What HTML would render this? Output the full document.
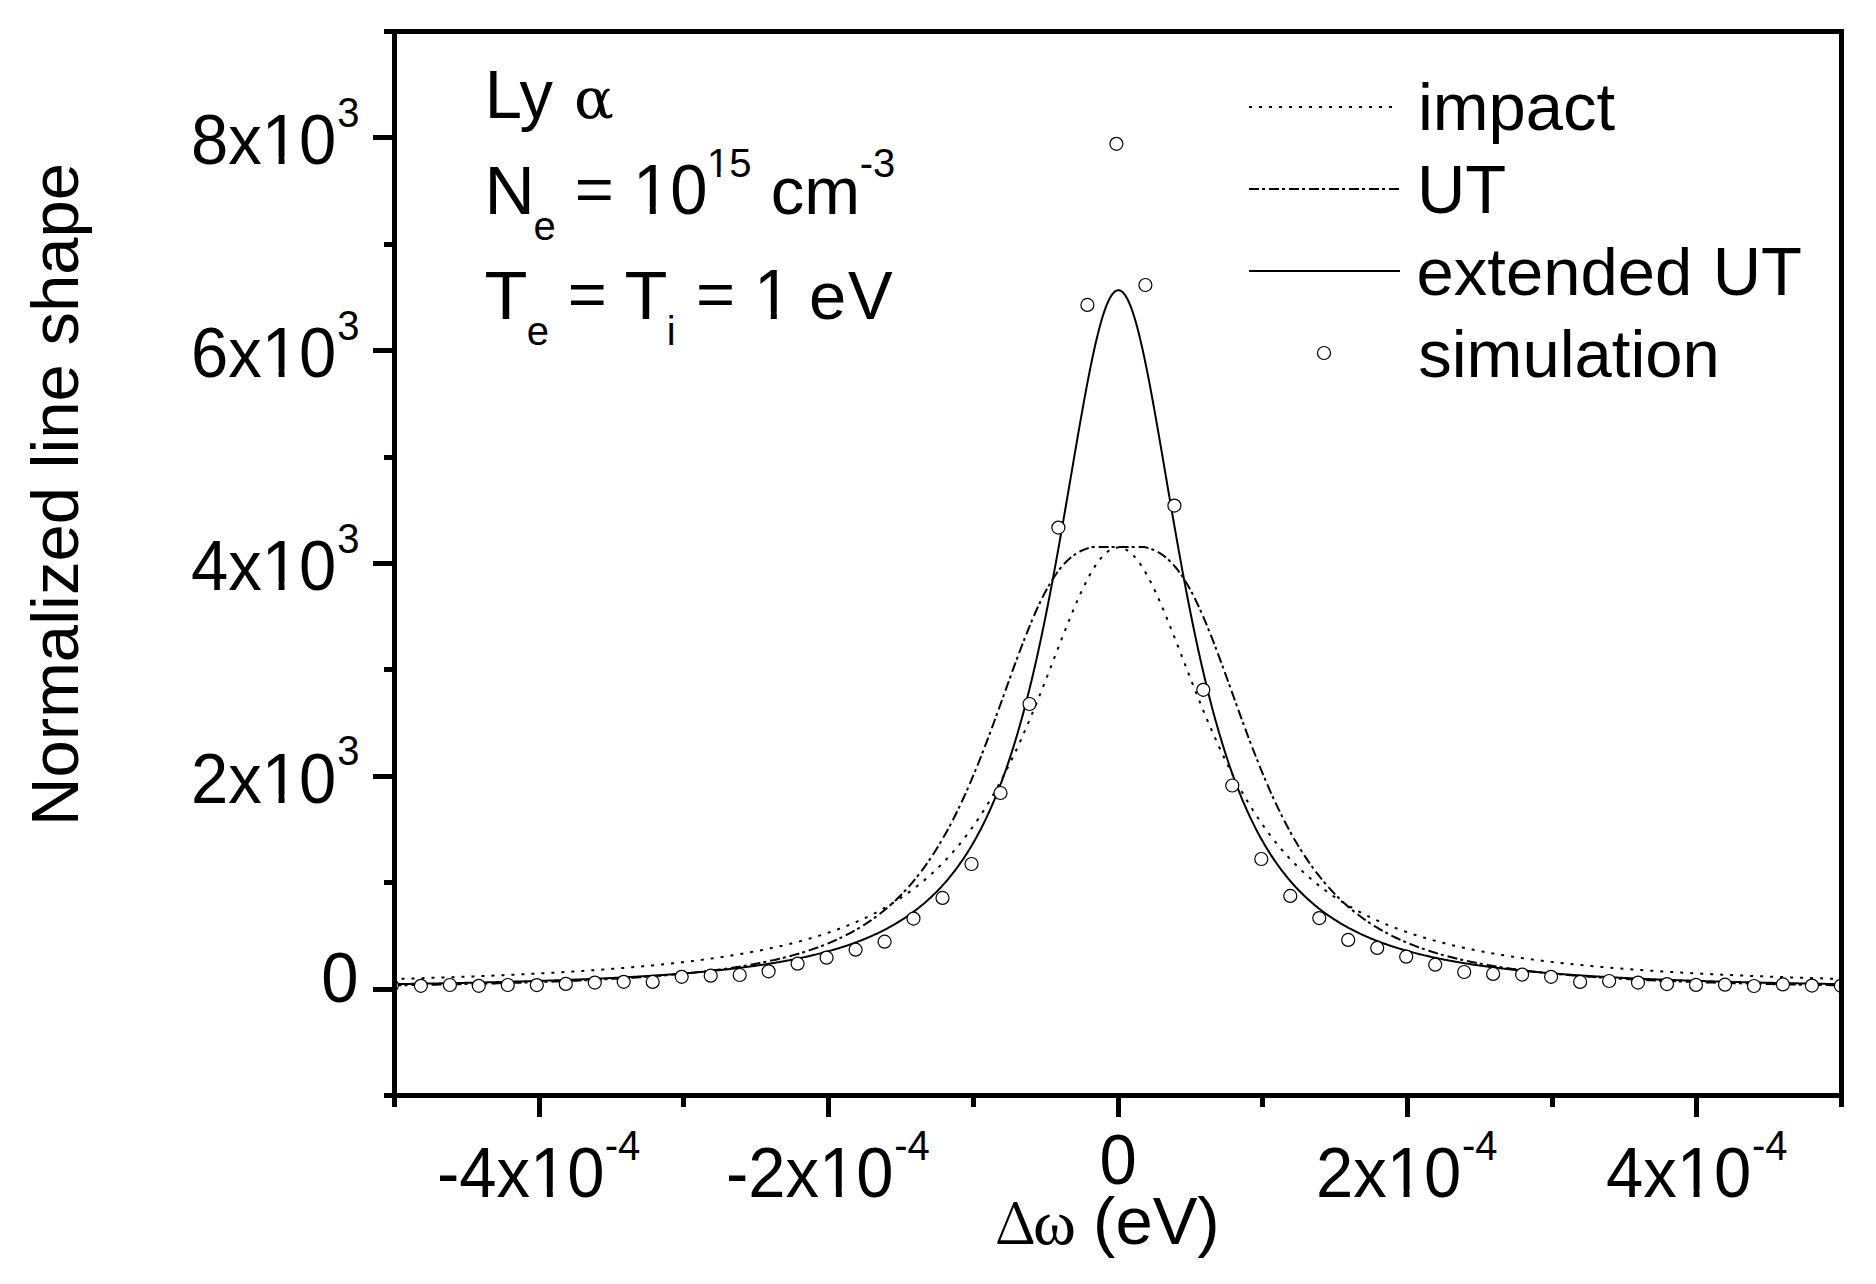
<!DOCTYPE html>
<html><head><meta charset="utf-8"><title>Normalized line shape</title>
<style>
html,body{margin:0;padding:0;background:#fff;}
body{width:1876px;height:1284px;overflow:hidden;}
svg{display:block;}
.s{font-family:"Liberation Sans",Arial,sans-serif;fill:#000;}
.r{font-family:"Liberation Serif","Times New Roman",serif;}
.d{font-family:"DejaVu Serif",serif;}
.n{font-family:"Noto Serif CJK SC",serif;}
</style></head><body>
<svg width="1876" height="1284" viewBox="0 0 1876 1284">
<rect width="1876" height="1284" fill="#fff"/>
<defs><clipPath id="pa"><rect x="394.5" y="31.5" width="1447" height="1064"/></clipPath></defs>
<g clip-path="url(#pa)" fill="none" stroke="#000">
<path d="M391.5,979.04 L392.5,979.01 L393.5,978.98 L394.5,978.96 L395.5,978.93 L396.5,978.90 L397.5,978.87 L398.5,978.85 L399.5,978.82 L400.5,978.79 L401.5,978.76 L402.5,978.73 L403.5,978.71 L404.5,978.68 L405.5,978.65 L406.5,978.62 L407.5,978.59 L408.5,978.56 L409.5,978.53 L410.5,978.50 L411.5,978.47 L412.5,978.45 L413.5,978.42 L414.5,978.39 L415.5,978.36 L416.5,978.33 L417.5,978.30 L418.5,978.27 L419.5,978.24 L420.5,978.21 L421.5,978.18 L422.5,978.14 L423.5,978.11 L424.5,978.08 L425.5,978.05 L426.5,978.02 L427.5,977.99 L428.5,977.96 L429.5,977.93 L430.5,977.89 L431.5,977.86 L432.5,977.83 L433.5,977.80 L434.5,977.77 L435.5,977.73 L436.5,977.70 L437.5,977.67 L438.5,977.64 L439.5,977.60 L440.5,977.57 L441.5,977.54 L442.5,977.50 L443.5,977.47 L444.5,977.44 L445.5,977.40 L446.5,977.37 L447.5,977.34 L448.5,977.30 L449.5,977.27 L450.5,977.23 L451.5,977.20 L452.5,977.16 L453.5,977.13 L454.5,977.09 L455.5,977.06 L456.5,977.02 L457.5,976.99 L458.5,976.95 L459.5,976.91 L460.5,976.88 L461.5,976.84 L462.5,976.81 L463.5,976.77 L464.5,976.73 L465.5,976.70 L466.5,976.66 L467.5,976.62 L468.5,976.58 L469.5,976.55 L470.5,976.51 L471.5,976.47 L472.5,976.43 L473.5,976.40 L474.5,976.36 L475.5,976.32 L476.5,976.28 L477.5,976.24 L478.5,976.20 L479.5,976.16 L480.5,976.12 L481.5,976.08 L482.5,976.04 L483.5,976.00 L484.5,975.96 L485.5,975.92 L486.5,975.88 L487.5,975.84 L488.5,975.80 L489.5,975.76 L490.5,975.72 L491.5,975.68 L492.5,975.64 L493.5,975.59 L494.5,975.55 L495.5,975.51 L496.5,975.47 L497.5,975.42 L498.5,975.38 L499.5,975.34 L500.5,975.30 L501.5,975.25 L502.5,975.21 L503.5,975.17 L504.5,975.12 L505.5,975.08 L506.5,975.03 L507.5,974.99 L508.5,974.94 L509.5,974.90 L510.5,974.85 L511.5,974.81 L512.5,974.76 L513.5,974.72 L514.5,974.67 L515.5,974.62 L516.5,974.58 L517.5,974.53 L518.5,974.48 L519.5,974.44 L520.5,974.39 L521.5,974.34 L522.5,974.29 L523.5,974.24 L524.5,974.20 L525.5,974.15 L526.5,974.10 L527.5,974.05 L528.5,974.00 L529.5,973.95 L530.5,973.90 L531.5,973.85 L532.5,973.80 L533.5,973.75 L534.5,973.70 L535.5,973.65 L536.5,973.60 L537.5,973.55 L538.5,973.49 L539.5,973.44 L540.5,973.39 L541.5,973.34 L542.5,973.28 L543.5,973.23 L544.5,973.18 L545.5,973.12 L546.5,973.07 L547.5,973.02 L548.5,972.96 L549.5,972.91 L550.5,972.85 L551.5,972.80 L552.5,972.74 L553.5,972.69 L554.5,972.63 L555.5,972.57 L556.5,972.52 L557.5,972.46 L558.5,972.40 L559.5,972.34 L560.5,972.29 L561.5,972.23 L562.5,972.17 L563.5,972.11 L564.5,972.05 L565.5,971.99 L566.5,971.93 L567.5,971.87 L568.5,971.81 L569.5,971.75 L570.5,971.69 L571.5,971.63 L572.5,971.57 L573.5,971.51 L574.5,971.44 L575.5,971.38 L576.5,971.32 L577.5,971.26 L578.5,971.19 L579.5,971.13 L580.5,971.06 L581.5,971.00 L582.5,970.94 L583.5,970.87 L584.5,970.80 L585.5,970.74 L586.5,970.67 L587.5,970.61 L588.5,970.54 L589.5,970.47 L590.5,970.40 L591.5,970.34 L592.5,970.27 L593.5,970.20 L594.5,970.13 L595.5,970.06 L596.5,969.99 L597.5,969.92 L598.5,969.85 L599.5,969.78 L600.5,969.71 L601.5,969.64 L602.5,969.56 L603.5,969.49 L604.5,969.42 L605.5,969.34 L606.5,969.27 L607.5,969.20 L608.5,969.12 L609.5,969.05 L610.5,968.97 L611.5,968.90 L612.5,968.82 L613.5,968.74 L614.5,968.67 L615.5,968.59 L616.5,968.51 L617.5,968.43 L618.5,968.35 L619.5,968.27 L620.5,968.19 L621.5,968.11 L622.5,968.03 L623.5,967.95 L624.5,967.87 L625.5,967.79 L626.5,967.71 L627.5,967.62 L628.5,967.54 L629.5,967.45 L630.5,967.37 L631.5,967.29 L632.5,967.20 L633.5,967.11 L634.5,967.03 L635.5,966.94 L636.5,966.85 L637.5,966.77 L638.5,966.68 L639.5,966.59 L640.5,966.50 L641.5,966.41 L642.5,966.32 L643.5,966.23 L644.5,966.13 L645.5,966.04 L646.5,965.95 L647.5,965.86 L648.5,965.76 L649.5,965.67 L650.5,965.57 L651.5,965.48 L652.5,965.38 L653.5,965.29 L654.5,965.19 L655.5,965.09 L656.5,964.99 L657.5,964.89 L658.5,964.79 L659.5,964.69 L660.5,964.59 L661.5,964.49 L662.5,964.39 L663.5,964.29 L664.5,964.18 L665.5,964.08 L666.5,963.97 L667.5,963.87 L668.5,963.76 L669.5,963.66 L670.5,963.55 L671.5,963.44 L672.5,963.33 L673.5,963.22 L674.5,963.11 L675.5,963.00 L676.5,962.89 L677.5,962.78 L678.5,962.67 L679.5,962.56 L680.5,962.44 L681.5,962.33 L682.5,962.21 L683.5,962.09 L684.5,961.98 L685.5,961.86 L686.5,961.74 L687.5,961.62 L688.5,961.50 L689.5,961.38 L690.5,961.26 L691.5,961.14 L692.5,961.01 L693.5,960.89 L694.5,960.77 L695.5,960.64 L696.5,960.51 L697.5,960.39 L698.5,960.26 L699.5,960.13 L700.5,960.00 L701.5,959.87 L702.5,959.74 L703.5,959.61 L704.5,959.47 L705.5,959.34 L706.5,959.20 L707.5,959.07 L708.5,958.93 L709.5,958.79 L710.5,958.66 L711.5,958.52 L712.5,958.38 L713.5,958.23 L714.5,958.09 L715.5,957.95 L716.5,957.81 L717.5,957.66 L718.5,957.51 L719.5,957.37 L720.5,957.22 L721.5,957.07 L722.5,956.92 L723.5,956.77 L724.5,956.62 L725.5,956.46 L726.5,956.31 L727.5,956.15 L728.5,956.00 L729.5,955.84 L730.5,955.68 L731.5,955.52 L732.5,955.36 L733.5,955.20 L734.5,955.03 L735.5,954.87 L736.5,954.70 L737.5,954.54 L738.5,954.37 L739.5,954.20 L740.5,954.03 L741.5,953.86 L742.5,953.69 L743.5,953.51 L744.5,953.34 L745.5,953.16 L746.5,952.98 L747.5,952.80 L748.5,952.62 L749.5,952.44 L750.5,952.26 L751.5,952.07 L752.5,951.89 L753.5,951.70 L754.5,951.51 L755.5,951.32 L756.5,951.13 L757.5,950.94 L758.5,950.75 L759.5,950.55 L760.5,950.35 L761.5,950.16 L762.5,949.96 L763.5,949.75 L764.5,949.55 L765.5,949.35 L766.5,949.14 L767.5,948.93 L768.5,948.73 L769.5,948.52 L770.5,948.30 L771.5,948.09 L772.5,947.87 L773.5,947.66 L774.5,947.44 L775.5,947.22 L776.5,947.00 L777.5,946.77 L778.5,946.55 L779.5,946.32 L780.5,946.09 L781.5,945.86 L782.5,945.63 L783.5,945.39 L784.5,945.16 L785.5,944.92 L786.5,944.68 L787.5,944.44 L788.5,944.20 L789.5,943.95 L790.5,943.70 L791.5,943.45 L792.5,943.20 L793.5,942.95 L794.5,942.69 L795.5,942.43 L796.5,942.18 L797.5,941.91 L798.5,941.65 L799.5,941.38 L800.5,941.12 L801.5,940.85 L802.5,940.57 L803.5,940.30 L804.5,940.02 L805.5,939.74 L806.5,939.46 L807.5,939.18 L808.5,938.89 L809.5,938.60 L810.5,938.31 L811.5,938.02 L812.5,937.72 L813.5,937.43 L814.5,937.13 L815.5,936.82 L816.5,936.52 L817.5,936.21 L818.5,935.90 L819.5,935.58 L820.5,935.27 L821.5,934.95 L822.5,934.63 L823.5,934.30 L824.5,933.98 L825.5,933.65 L826.5,933.32 L827.5,932.98 L828.5,932.64 L829.5,932.30 L830.5,931.96 L831.5,931.61 L832.5,931.26 L833.5,930.91 L834.5,930.55 L835.5,930.19 L836.5,929.83 L837.5,929.46 L838.5,929.09 L839.5,928.72 L840.5,928.35 L841.5,927.97 L842.5,927.59 L843.5,927.20 L844.5,926.81 L845.5,926.42 L846.5,926.02 L847.5,925.62 L848.5,925.22 L849.5,924.81 L850.5,924.40 L851.5,923.99 L852.5,923.57 L853.5,923.15 L854.5,922.72 L855.5,922.29 L856.5,921.86 L857.5,921.42 L858.5,920.98 L859.5,920.54 L860.5,920.09 L861.5,919.63 L862.5,919.18 L863.5,918.71 L864.5,918.25 L865.5,917.78 L866.5,917.30 L867.5,916.82 L868.5,916.34 L869.5,915.85 L870.5,915.36 L871.5,914.86 L872.5,914.36 L873.5,913.85 L874.5,913.34 L875.5,912.82 L876.5,912.30 L877.5,911.77 L878.5,911.24 L879.5,910.70 L880.5,910.16 L881.5,909.61 L882.5,909.06 L883.5,908.50 L884.5,907.94 L885.5,907.37 L886.5,906.79 L887.5,906.21 L888.5,905.63 L889.5,905.03 L890.5,904.44 L891.5,903.83 L892.5,903.22 L893.5,902.61 L894.5,901.99 L895.5,901.36 L896.5,900.72 L897.5,900.08 L898.5,899.44 L899.5,898.78 L900.5,898.12 L901.5,897.46 L902.5,896.79 L903.5,896.11 L904.5,895.42 L905.5,894.73 L906.5,894.02 L907.5,893.32 L908.5,892.60 L909.5,891.88 L910.5,891.15 L911.5,890.41 L912.5,889.67 L913.5,888.92 L914.5,888.16 L915.5,887.39 L916.5,886.61 L917.5,885.83 L918.5,885.04 L919.5,884.24 L920.5,883.43 L921.5,882.61 L922.5,881.79 L923.5,880.95 L924.5,880.11 L925.5,879.26 L926.5,878.40 L927.5,877.53 L928.5,876.65 L929.5,875.77 L930.5,874.87 L931.5,873.96 L932.5,873.05 L933.5,872.12 L934.5,871.19 L935.5,870.24 L936.5,869.29 L937.5,868.32 L938.5,867.35 L939.5,866.36 L940.5,865.37 L941.5,864.36 L942.5,863.34 L943.5,862.32 L944.5,861.28 L945.5,860.23 L946.5,859.16 L947.5,858.09 L948.5,857.01 L949.5,855.91 L950.5,854.81 L951.5,853.69 L952.5,852.56 L953.5,851.41 L954.5,850.26 L955.5,849.09 L956.5,847.91 L957.5,846.72 L958.5,845.51 L959.5,844.29 L960.5,843.06 L961.5,841.82 L962.5,840.56 L963.5,839.29 L964.5,838.00 L965.5,836.70 L966.5,835.39 L967.5,834.06 L968.5,832.72 L969.5,831.37 L970.5,830.00 L971.5,828.62 L972.5,827.22 L973.5,825.81 L974.5,824.38 L975.5,822.94 L976.5,821.48 L977.5,820.00 L978.5,818.52 L979.5,817.01 L980.5,815.49 L981.5,813.96 L982.5,812.40 L983.5,810.84 L984.5,809.25 L985.5,807.65 L986.5,806.03 L987.5,804.40 L988.5,802.75 L989.5,801.08 L990.5,799.40 L991.5,797.70 L992.5,795.98 L993.5,794.25 L994.5,792.50 L995.5,790.73 L996.5,788.94 L997.5,787.14 L998.5,785.31 L999.5,783.48 L1000.5,781.62 L1001.5,779.74 L1002.5,777.85 L1003.5,775.94 L1004.5,774.01 L1005.5,772.07 L1006.5,770.10 L1007.5,768.12 L1008.5,766.12 L1009.5,764.10 L1010.5,762.07 L1011.5,760.01 L1012.5,757.94 L1013.5,755.85 L1014.5,753.75 L1015.5,751.62 L1016.5,749.48 L1017.5,747.32 L1018.5,745.14 L1019.5,742.95 L1020.5,740.74 L1021.5,738.51 L1022.5,736.26 L1023.5,734.00 L1024.5,731.72 L1025.5,729.43 L1026.5,727.12 L1027.5,724.79 L1028.5,722.45 L1029.5,720.09 L1030.5,717.72 L1031.5,715.33 L1032.5,712.93 L1033.5,710.52 L1034.5,708.09 L1035.5,705.65 L1036.5,703.19 L1037.5,700.72 L1038.5,698.24 L1039.5,695.75 L1040.5,693.25 L1041.5,690.74 L1042.5,688.22 L1043.5,685.69 L1044.5,683.15 L1045.5,680.60 L1046.5,678.05 L1047.5,675.49 L1048.5,672.92 L1049.5,670.35 L1050.5,667.78 L1051.5,665.20 L1052.5,662.62 L1053.5,660.03 L1054.5,657.45 L1055.5,654.87 L1056.5,652.28 L1057.5,649.70 L1058.5,647.13 L1059.5,644.55 L1060.5,641.99 L1061.5,639.42 L1062.5,636.87 L1063.5,634.33 L1064.5,631.79 L1065.5,629.27 L1066.5,626.76 L1067.5,624.26 L1068.5,621.77 L1069.5,619.31 L1070.5,616.86 L1071.5,614.43 L1072.5,612.02 L1073.5,609.63 L1074.5,607.27 L1075.5,604.92 L1076.5,602.61 L1077.5,600.32 L1078.5,598.07 L1079.5,595.84 L1080.5,593.64 L1081.5,591.48 L1082.5,589.35 L1083.5,587.26 L1084.5,585.21 L1085.5,583.20 L1086.5,581.23 L1087.5,579.30 L1088.5,577.41 L1089.5,575.57 L1090.5,573.78 L1091.5,572.03 L1092.5,570.34 L1093.5,568.70 L1094.5,567.10 L1095.5,565.57 L1096.5,564.08 L1097.5,562.66 L1098.5,561.29 L1099.5,559.98 L1100.5,558.73 L1101.5,557.54 L1102.5,556.42 L1103.5,555.36 L1104.5,554.36 L1105.5,553.42 L1106.5,552.56 L1107.5,551.76 L1108.5,551.02 L1109.5,550.36 L1110.5,549.77 L1111.5,549.24 L1112.5,548.78 L1113.5,548.40 L1114.5,548.08 L1115.5,547.84 L1116.5,547.67 L1117.5,547.57 L1118.5,547.54 L1119.5,547.58 L1120.5,547.70 L1121.5,547.88 L1122.5,548.14 L1123.5,548.47 L1124.5,548.87 L1125.5,549.34 L1126.5,549.88 L1127.5,550.49 L1128.5,551.17 L1129.5,551.91 L1130.5,552.73 L1131.5,553.61 L1132.5,554.55 L1133.5,555.56 L1134.5,556.64 L1135.5,557.78 L1136.5,558.98 L1137.5,560.24 L1138.5,561.56 L1139.5,562.94 L1140.5,564.38 L1141.5,565.87 L1142.5,567.42 L1143.5,569.02 L1144.5,570.67 L1145.5,572.38 L1146.5,574.13 L1147.5,575.94 L1148.5,577.79 L1149.5,579.68 L1150.5,581.62 L1151.5,583.60 L1152.5,585.62 L1153.5,587.68 L1154.5,589.78 L1155.5,591.91 L1156.5,594.08 L1157.5,596.28 L1158.5,598.52 L1159.5,600.78 L1160.5,603.07 L1161.5,605.39 L1162.5,607.74 L1163.5,610.11 L1164.5,612.50 L1165.5,614.91 L1166.5,617.35 L1167.5,619.80 L1168.5,622.27 L1169.5,624.76 L1170.5,627.26 L1171.5,629.77 L1172.5,632.30 L1173.5,634.83 L1174.5,637.38 L1175.5,639.94 L1176.5,642.50 L1177.5,645.07 L1178.5,647.64 L1179.5,650.22 L1180.5,652.80 L1181.5,655.38 L1182.5,657.97 L1183.5,660.55 L1184.5,663.13 L1185.5,665.71 L1186.5,668.29 L1187.5,670.87 L1188.5,673.44 L1189.5,676.00 L1190.5,678.56 L1191.5,681.11 L1192.5,683.66 L1193.5,686.20 L1194.5,688.72 L1195.5,691.24 L1196.5,693.75 L1197.5,696.25 L1198.5,698.74 L1199.5,701.22 L1200.5,703.68 L1201.5,706.13 L1202.5,708.57 L1203.5,711.00 L1204.5,713.41 L1205.5,715.81 L1206.5,718.20 L1207.5,720.57 L1208.5,722.92 L1209.5,725.26 L1210.5,727.58 L1211.5,729.89 L1212.5,732.18 L1213.5,734.46 L1214.5,736.72 L1215.5,738.96 L1216.5,741.18 L1217.5,743.39 L1218.5,745.58 L1219.5,747.75 L1220.5,749.91 L1221.5,752.05 L1222.5,754.17 L1223.5,756.27 L1224.5,758.36 L1225.5,760.43 L1226.5,762.48 L1227.5,764.51 L1228.5,766.52 L1229.5,768.52 L1230.5,770.50 L1231.5,772.46 L1232.5,774.40 L1233.5,776.32 L1234.5,778.23 L1235.5,780.12 L1236.5,781.99 L1237.5,783.84 L1238.5,785.68 L1239.5,787.50 L1240.5,789.30 L1241.5,791.08 L1242.5,792.85 L1243.5,794.60 L1244.5,796.33 L1245.5,798.04 L1246.5,799.74 L1247.5,801.42 L1248.5,803.08 L1249.5,804.73 L1250.5,806.36 L1251.5,807.97 L1252.5,809.57 L1253.5,811.15 L1254.5,812.71 L1255.5,814.26 L1256.5,815.80 L1257.5,817.31 L1258.5,818.81 L1259.5,820.30 L1260.5,821.77 L1261.5,823.23 L1262.5,824.67 L1263.5,826.09 L1264.5,827.50 L1265.5,828.90 L1266.5,830.28 L1267.5,831.64 L1268.5,832.99 L1269.5,834.33 L1270.5,835.65 L1271.5,836.96 L1272.5,838.26 L1273.5,839.54 L1274.5,840.81 L1275.5,842.07 L1276.5,843.31 L1277.5,844.54 L1278.5,845.75 L1279.5,846.96 L1280.5,848.15 L1281.5,849.32 L1282.5,850.49 L1283.5,851.64 L1284.5,852.78 L1285.5,853.91 L1286.5,855.03 L1287.5,856.13 L1288.5,857.23 L1289.5,858.31 L1290.5,859.38 L1291.5,860.44 L1292.5,861.48 L1293.5,862.52 L1294.5,863.55 L1295.5,864.56 L1296.5,865.57 L1297.5,866.56 L1298.5,867.54 L1299.5,868.52 L1300.5,869.48 L1301.5,870.43 L1302.5,871.38 L1303.5,872.31 L1304.5,873.23 L1305.5,874.15 L1306.5,875.05 L1307.5,875.95 L1308.5,876.83 L1309.5,877.71 L1310.5,878.57 L1311.5,879.43 L1312.5,880.28 L1313.5,881.12 L1314.5,881.95 L1315.5,882.78 L1316.5,883.59 L1317.5,884.40 L1318.5,885.20 L1319.5,885.99 L1320.5,886.77 L1321.5,887.54 L1322.5,888.31 L1323.5,889.07 L1324.5,889.82 L1325.5,890.56 L1326.5,891.30 L1327.5,892.02 L1328.5,892.75 L1329.5,893.46 L1330.5,894.17 L1331.5,894.86 L1332.5,895.56 L1333.5,896.24 L1334.5,896.92 L1335.5,897.59 L1336.5,898.26 L1337.5,898.92 L1338.5,899.57 L1339.5,900.21 L1340.5,900.85 L1341.5,901.48 L1342.5,902.11 L1343.5,902.73 L1344.5,903.35 L1345.5,903.95 L1346.5,904.56 L1347.5,905.15 L1348.5,905.74 L1349.5,906.33 L1350.5,906.91 L1351.5,907.48 L1352.5,908.05 L1353.5,908.61 L1354.5,909.17 L1355.5,909.72 L1356.5,910.27 L1357.5,910.81 L1358.5,911.34 L1359.5,911.88 L1360.5,912.40 L1361.5,912.92 L1362.5,913.44 L1363.5,913.95 L1364.5,914.46 L1365.5,914.96 L1366.5,915.46 L1367.5,915.95 L1368.5,916.44 L1369.5,916.92 L1370.5,917.40 L1371.5,917.87 L1372.5,918.34 L1373.5,918.81 L1374.5,919.27 L1375.5,919.73 L1376.5,920.18 L1377.5,920.63 L1378.5,921.07 L1379.5,921.51 L1380.5,921.95 L1381.5,922.38 L1382.5,922.81 L1383.5,923.23 L1384.5,923.65 L1385.5,924.07 L1386.5,924.49 L1387.5,924.90 L1388.5,925.30 L1389.5,925.70 L1390.5,926.10 L1391.5,926.50 L1392.5,926.89 L1393.5,927.28 L1394.5,927.66 L1395.5,928.04 L1396.5,928.42 L1397.5,928.80 L1398.5,929.17 L1399.5,929.54 L1400.5,929.90 L1401.5,930.26 L1402.5,930.62 L1403.5,930.98 L1404.5,931.33 L1405.5,931.68 L1406.5,932.03 L1407.5,932.37 L1408.5,932.71 L1409.5,933.05 L1410.5,933.38 L1411.5,933.71 L1412.5,934.04 L1413.5,934.37 L1414.5,934.69 L1415.5,935.01 L1416.5,935.33 L1417.5,935.65 L1418.5,935.96 L1419.5,936.27 L1420.5,936.58 L1421.5,936.88 L1422.5,937.19 L1423.5,937.49 L1424.5,937.78 L1425.5,938.08 L1426.5,938.37 L1427.5,938.66 L1428.5,938.95 L1429.5,939.24 L1430.5,939.52 L1431.5,939.80 L1432.5,940.08 L1433.5,940.35 L1434.5,940.63 L1435.5,940.90 L1436.5,941.17 L1437.5,941.44 L1438.5,941.70 L1439.5,941.97 L1440.5,942.23 L1441.5,942.49 L1442.5,942.74 L1443.5,943.00 L1444.5,943.25 L1445.5,943.50 L1446.5,943.75 L1447.5,944.00 L1448.5,944.24 L1449.5,944.49 L1450.5,944.73 L1451.5,944.97 L1452.5,945.21 L1453.5,945.44 L1454.5,945.68 L1455.5,945.91 L1456.5,946.14 L1457.5,946.37 L1458.5,946.59 L1459.5,946.82 L1460.5,947.04 L1461.5,947.26 L1462.5,947.48 L1463.5,947.70 L1464.5,947.92 L1465.5,948.13 L1466.5,948.35 L1467.5,948.56 L1468.5,948.77 L1469.5,948.98 L1470.5,949.18 L1471.5,949.39 L1472.5,949.59 L1473.5,949.80 L1474.5,950.00 L1475.5,950.20 L1476.5,950.39 L1477.5,950.59 L1478.5,950.79 L1479.5,950.98 L1480.5,951.17 L1481.5,951.36 L1482.5,951.55 L1483.5,951.74 L1484.5,951.93 L1485.5,952.11 L1486.5,952.30 L1487.5,952.48 L1488.5,952.66 L1489.5,952.84 L1490.5,953.02 L1491.5,953.20 L1492.5,953.37 L1493.5,953.55 L1494.5,953.72 L1495.5,953.89 L1496.5,954.06 L1497.5,954.23 L1498.5,954.40 L1499.5,954.57 L1500.5,954.74 L1501.5,954.90 L1502.5,955.07 L1503.5,955.23 L1504.5,955.39 L1505.5,955.55 L1506.5,955.71 L1507.5,955.87 L1508.5,956.03 L1509.5,956.18 L1510.5,956.34 L1511.5,956.49 L1512.5,956.65 L1513.5,956.80 L1514.5,956.95 L1515.5,957.10 L1516.5,957.25 L1517.5,957.40 L1518.5,957.54 L1519.5,957.69 L1520.5,957.83 L1521.5,957.98 L1522.5,958.12 L1523.5,958.26 L1524.5,958.40 L1525.5,958.54 L1526.5,958.68 L1527.5,958.82 L1528.5,958.96 L1529.5,959.10 L1530.5,959.23 L1531.5,959.37 L1532.5,959.50 L1533.5,959.63 L1534.5,959.77 L1535.5,959.90 L1536.5,960.03 L1537.5,960.16 L1538.5,960.28 L1539.5,960.41 L1540.5,960.54 L1541.5,960.67 L1542.5,960.79 L1543.5,960.92 L1544.5,961.04 L1545.5,961.16 L1546.5,961.28 L1547.5,961.41 L1548.5,961.53 L1549.5,961.65 L1550.5,961.77 L1551.5,961.88 L1552.5,962.00 L1553.5,962.12 L1554.5,962.23 L1555.5,962.35 L1556.5,962.46 L1557.5,962.58 L1558.5,962.69 L1559.5,962.80 L1560.5,962.92 L1561.5,963.03 L1562.5,963.14 L1563.5,963.25 L1564.5,963.36 L1565.5,963.46 L1566.5,963.57 L1567.5,963.68 L1568.5,963.79 L1569.5,963.89 L1570.5,964.00 L1571.5,964.10 L1572.5,964.20 L1573.5,964.31 L1574.5,964.41 L1575.5,964.51 L1576.5,964.61 L1577.5,964.71 L1578.5,964.81 L1579.5,964.91 L1580.5,965.01 L1581.5,965.11 L1582.5,965.21 L1583.5,965.31 L1584.5,965.40 L1585.5,965.50 L1586.5,965.59 L1587.5,965.69 L1588.5,965.78 L1589.5,965.88 L1590.5,965.97 L1591.5,966.06 L1592.5,966.15 L1593.5,966.24 L1594.5,966.34 L1595.5,966.43 L1596.5,966.52 L1597.5,966.61 L1598.5,966.69 L1599.5,966.78 L1600.5,966.87 L1601.5,966.96 L1602.5,967.04 L1603.5,967.13 L1604.5,967.22 L1605.5,967.30 L1606.5,967.39 L1607.5,967.47 L1608.5,967.56 L1609.5,967.64 L1610.5,967.72 L1611.5,967.80 L1612.5,967.89 L1613.5,967.97 L1614.5,968.05 L1615.5,968.13 L1616.5,968.21 L1617.5,968.29 L1618.5,968.37 L1619.5,968.45 L1620.5,968.53 L1621.5,968.60 L1622.5,968.68 L1623.5,968.76 L1624.5,968.83 L1625.5,968.91 L1626.5,968.99 L1627.5,969.06 L1628.5,969.14 L1629.5,969.21 L1630.5,969.29 L1631.5,969.36 L1632.5,969.43 L1633.5,969.51 L1634.5,969.58 L1635.5,969.65 L1636.5,969.72 L1637.5,969.79 L1638.5,969.86 L1639.5,969.93 L1640.5,970.00 L1641.5,970.07 L1642.5,970.14 L1643.5,970.21 L1644.5,970.28 L1645.5,970.35 L1646.5,970.42 L1647.5,970.49 L1648.5,970.55 L1649.5,970.62 L1650.5,970.69 L1651.5,970.75 L1652.5,970.82 L1653.5,970.88 L1654.5,970.95 L1655.5,971.01 L1656.5,971.08 L1657.5,971.14 L1658.5,971.21 L1659.5,971.27 L1660.5,971.33 L1661.5,971.39 L1662.5,971.46 L1663.5,971.52 L1664.5,971.58 L1665.5,971.64 L1666.5,971.70 L1667.5,971.76 L1668.5,971.82 L1669.5,971.89 L1670.5,971.94 L1671.5,972.00 L1672.5,972.06 L1673.5,972.12 L1674.5,972.18 L1675.5,972.24 L1676.5,972.30 L1677.5,972.36 L1678.5,972.41 L1679.5,972.47 L1680.5,972.53 L1681.5,972.58 L1682.5,972.64 L1683.5,972.70 L1684.5,972.75 L1685.5,972.81 L1686.5,972.86 L1687.5,972.92 L1688.5,972.97 L1689.5,973.03 L1690.5,973.08 L1691.5,973.13 L1692.5,973.19 L1693.5,973.24 L1694.5,973.29 L1695.5,973.35 L1696.5,973.40 L1697.5,973.45 L1698.5,973.50 L1699.5,973.56 L1700.5,973.61 L1701.5,973.66 L1702.5,973.71 L1703.5,973.76 L1704.5,973.81 L1705.5,973.86 L1706.5,973.91 L1707.5,973.96 L1708.5,974.01 L1709.5,974.06 L1710.5,974.11 L1711.5,974.16 L1712.5,974.21 L1713.5,974.25 L1714.5,974.30 L1715.5,974.35 L1716.5,974.40 L1717.5,974.45 L1718.5,974.49 L1719.5,974.54 L1720.5,974.59 L1721.5,974.63 L1722.5,974.68 L1723.5,974.73 L1724.5,974.77 L1725.5,974.82 L1726.5,974.86 L1727.5,974.91 L1728.5,974.95 L1729.5,975.00 L1730.5,975.04 L1731.5,975.09 L1732.5,975.13 L1733.5,975.17 L1734.5,975.22 L1735.5,975.26 L1736.5,975.30 L1737.5,975.35 L1738.5,975.39 L1739.5,975.43 L1740.5,975.48 L1741.5,975.52 L1742.5,975.56 L1743.5,975.60 L1744.5,975.64 L1745.5,975.69 L1746.5,975.73 L1747.5,975.77 L1748.5,975.81 L1749.5,975.85 L1750.5,975.89 L1751.5,975.93 L1752.5,975.97 L1753.5,976.01 L1754.5,976.05 L1755.5,976.09 L1756.5,976.13 L1757.5,976.17 L1758.5,976.21 L1759.5,976.25 L1760.5,976.29 L1761.5,976.33 L1762.5,976.36 L1763.5,976.40 L1764.5,976.44 L1765.5,976.48 L1766.5,976.52 L1767.5,976.55 L1768.5,976.59 L1769.5,976.63 L1770.5,976.67 L1771.5,976.70 L1772.5,976.74 L1773.5,976.78 L1774.5,976.81 L1775.5,976.85 L1776.5,976.89 L1777.5,976.92 L1778.5,976.96 L1779.5,976.99 L1780.5,977.03 L1781.5,977.06 L1782.5,977.10 L1783.5,977.13 L1784.5,977.17 L1785.5,977.20 L1786.5,977.24 L1787.5,977.27 L1788.5,977.31 L1789.5,977.34 L1790.5,977.38 L1791.5,977.41 L1792.5,977.44 L1793.5,977.48 L1794.5,977.51 L1795.5,977.54 L1796.5,977.58 L1797.5,977.61 L1798.5,977.64 L1799.5,977.68 L1800.5,977.71 L1801.5,977.74 L1802.5,977.77 L1803.5,977.81 L1804.5,977.84 L1805.5,977.87 L1806.5,977.90 L1807.5,977.93 L1808.5,977.96 L1809.5,978.00 L1810.5,978.03 L1811.5,978.06 L1812.5,978.09 L1813.5,978.12 L1814.5,978.15 L1815.5,978.18 L1816.5,978.21 L1817.5,978.24 L1818.5,978.27 L1819.5,978.30 L1820.5,978.33 L1821.5,978.36 L1822.5,978.39 L1823.5,978.42 L1824.5,978.45 L1825.5,978.48 L1826.5,978.51 L1827.5,978.54 L1828.5,978.57 L1829.5,978.60 L1830.5,978.63 L1831.5,978.65 L1832.5,978.68 L1833.5,978.71 L1834.5,978.74 L1835.5,978.77 L1836.5,978.80 L1837.5,978.82 L1838.5,978.85 L1839.5,978.88 L1840.5,978.91 L1841.5,978.93 L1842.5,978.96 L1843.5,978.99 L1844.5,979.02" stroke-width="2" stroke-dasharray="3 7"/>
<path d="M391.5,985.37 L392.5,985.36 L393.5,985.35 L394.5,985.33 L395.5,985.32 L396.5,985.30 L397.5,985.29 L398.5,985.27 L399.5,985.26 L400.5,985.24 L401.5,985.23 L402.5,985.21 L403.5,985.20 L404.5,985.18 L405.5,985.17 L406.5,985.15 L407.5,985.14 L408.5,985.12 L409.5,985.11 L410.5,985.09 L411.5,985.07 L412.5,985.06 L413.5,985.04 L414.5,985.03 L415.5,985.01 L416.5,984.99 L417.5,984.98 L418.5,984.96 L419.5,984.94 L420.5,984.93 L421.5,984.91 L422.5,984.89 L423.5,984.88 L424.5,984.86 L425.5,984.84 L426.5,984.83 L427.5,984.81 L428.5,984.79 L429.5,984.77 L430.5,984.76 L431.5,984.74 L432.5,984.72 L433.5,984.70 L434.5,984.69 L435.5,984.67 L436.5,984.65 L437.5,984.63 L438.5,984.61 L439.5,984.60 L440.5,984.58 L441.5,984.56 L442.5,984.54 L443.5,984.52 L444.5,984.50 L445.5,984.48 L446.5,984.46 L447.5,984.44 L448.5,984.42 L449.5,984.41 L450.5,984.39 L451.5,984.37 L452.5,984.35 L453.5,984.33 L454.5,984.31 L455.5,984.29 L456.5,984.27 L457.5,984.25 L458.5,984.23 L459.5,984.20 L460.5,984.18 L461.5,984.16 L462.5,984.14 L463.5,984.12 L464.5,984.10 L465.5,984.08 L466.5,984.06 L467.5,984.04 L468.5,984.01 L469.5,983.99 L470.5,983.97 L471.5,983.95 L472.5,983.93 L473.5,983.90 L474.5,983.88 L475.5,983.86 L476.5,983.84 L477.5,983.81 L478.5,983.79 L479.5,983.77 L480.5,983.74 L481.5,983.72 L482.5,983.70 L483.5,983.67 L484.5,983.65 L485.5,983.63 L486.5,983.60 L487.5,983.58 L488.5,983.55 L489.5,983.53 L490.5,983.50 L491.5,983.48 L492.5,983.45 L493.5,983.43 L494.5,983.40 L495.5,983.38 L496.5,983.35 L497.5,983.33 L498.5,983.30 L499.5,983.28 L500.5,983.25 L501.5,983.22 L502.5,983.20 L503.5,983.17 L504.5,983.14 L505.5,983.12 L506.5,983.09 L507.5,983.06 L508.5,983.03 L509.5,983.01 L510.5,982.98 L511.5,982.95 L512.5,982.92 L513.5,982.89 L514.5,982.86 L515.5,982.84 L516.5,982.81 L517.5,982.78 L518.5,982.75 L519.5,982.72 L520.5,982.69 L521.5,982.66 L522.5,982.63 L523.5,982.60 L524.5,982.57 L525.5,982.54 L526.5,982.51 L527.5,982.48 L528.5,982.45 L529.5,982.41 L530.5,982.38 L531.5,982.35 L532.5,982.32 L533.5,982.29 L534.5,982.25 L535.5,982.22 L536.5,982.19 L537.5,982.16 L538.5,982.12 L539.5,982.09 L540.5,982.06 L541.5,982.02 L542.5,981.99 L543.5,981.95 L544.5,981.92 L545.5,981.88 L546.5,981.85 L547.5,981.81 L548.5,981.78 L549.5,981.74 L550.5,981.71 L551.5,981.67 L552.5,981.63 L553.5,981.60 L554.5,981.56 L555.5,981.52 L556.5,981.49 L557.5,981.45 L558.5,981.41 L559.5,981.37 L560.5,981.33 L561.5,981.30 L562.5,981.26 L563.5,981.22 L564.5,981.18 L565.5,981.14 L566.5,981.10 L567.5,981.06 L568.5,981.02 L569.5,980.98 L570.5,980.93 L571.5,980.89 L572.5,980.85 L573.5,980.81 L574.5,980.77 L575.5,980.73 L576.5,980.68 L577.5,980.64 L578.5,980.60 L579.5,980.55 L580.5,980.51 L581.5,980.46 L582.5,980.42 L583.5,980.37 L584.5,980.33 L585.5,980.28 L586.5,980.24 L587.5,980.19 L588.5,980.14 L589.5,980.10 L590.5,980.05 L591.5,980.00 L592.5,979.96 L593.5,979.91 L594.5,979.86 L595.5,979.81 L596.5,979.76 L597.5,979.71 L598.5,979.66 L599.5,979.61 L600.5,979.56 L601.5,979.51 L602.5,979.46 L603.5,979.41 L604.5,979.35 L605.5,979.30 L606.5,979.25 L607.5,979.19 L608.5,979.14 L609.5,979.09 L610.5,979.03 L611.5,978.98 L612.5,978.92 L613.5,978.87 L614.5,978.81 L615.5,978.75 L616.5,978.70 L617.5,978.64 L618.5,978.58 L619.5,978.52 L620.5,978.46 L621.5,978.40 L622.5,978.34 L623.5,978.28 L624.5,978.22 L625.5,978.16 L626.5,978.10 L627.5,978.04 L628.5,977.98 L629.5,977.91 L630.5,977.85 L631.5,977.79 L632.5,977.72 L633.5,977.66 L634.5,977.59 L635.5,977.53 L636.5,977.46 L637.5,977.39 L638.5,977.33 L639.5,977.26 L640.5,977.19 L641.5,977.12 L642.5,977.05 L643.5,976.98 L644.5,976.91 L645.5,976.84 L646.5,976.77 L647.5,976.70 L648.5,976.62 L649.5,976.55 L650.5,976.48 L651.5,976.40 L652.5,976.33 L653.5,976.25 L654.5,976.18 L655.5,976.10 L656.5,976.02 L657.5,975.94 L658.5,975.86 L659.5,975.78 L660.5,975.70 L661.5,975.62 L662.5,975.54 L663.5,975.46 L664.5,975.38 L665.5,975.29 L666.5,975.21 L667.5,975.13 L668.5,975.04 L669.5,974.95 L670.5,974.87 L671.5,974.78 L672.5,974.69 L673.5,974.60 L674.5,974.51 L675.5,974.42 L676.5,974.33 L677.5,974.24 L678.5,974.15 L679.5,974.05 L680.5,973.96 L681.5,973.86 L682.5,973.77 L683.5,973.67 L684.5,973.57 L685.5,973.47 L686.5,973.37 L687.5,973.27 L688.5,973.17 L689.5,973.07 L690.5,972.97 L691.5,972.86 L692.5,972.76 L693.5,972.65 L694.5,972.55 L695.5,972.44 L696.5,972.33 L697.5,972.22 L698.5,972.11 L699.5,972.00 L700.5,971.89 L701.5,971.78 L702.5,971.66 L703.5,971.55 L704.5,971.43 L705.5,971.31 L706.5,971.20 L707.5,971.08 L708.5,970.96 L709.5,970.84 L710.5,970.71 L711.5,970.59 L712.5,970.47 L713.5,970.34 L714.5,970.21 L715.5,970.08 L716.5,969.95 L717.5,969.82 L718.5,969.69 L719.5,969.56 L720.5,969.43 L721.5,969.29 L722.5,969.15 L723.5,969.02 L724.5,968.88 L725.5,968.74 L726.5,968.60 L727.5,968.45 L728.5,968.31 L729.5,968.16 L730.5,968.02 L731.5,967.87 L732.5,967.72 L733.5,967.57 L734.5,967.41 L735.5,967.26 L736.5,967.10 L737.5,966.95 L738.5,966.79 L739.5,966.63 L740.5,966.47 L741.5,966.30 L742.5,966.14 L743.5,965.97 L744.5,965.80 L745.5,965.63 L746.5,965.46 L747.5,965.29 L748.5,965.12 L749.5,964.94 L750.5,964.76 L751.5,964.58 L752.5,964.40 L753.5,964.22 L754.5,964.03 L755.5,963.84 L756.5,963.66 L757.5,963.46 L758.5,963.27 L759.5,963.08 L760.5,962.88 L761.5,962.68 L762.5,962.48 L763.5,962.28 L764.5,962.07 L765.5,961.87 L766.5,961.66 L767.5,961.45 L768.5,961.24 L769.5,961.02 L770.5,960.80 L771.5,960.58 L772.5,960.36 L773.5,960.14 L774.5,959.91 L775.5,959.68 L776.5,959.45 L777.5,959.22 L778.5,958.98 L779.5,958.74 L780.5,958.50 L781.5,958.26 L782.5,958.01 L783.5,957.76 L784.5,957.51 L785.5,957.26 L786.5,957.00 L787.5,956.74 L788.5,956.48 L789.5,956.21 L790.5,955.94 L791.5,955.67 L792.5,955.40 L793.5,955.12 L794.5,954.84 L795.5,954.56 L796.5,954.27 L797.5,953.98 L798.5,953.69 L799.5,953.40 L800.5,953.10 L801.5,952.80 L802.5,952.49 L803.5,952.18 L804.5,951.87 L805.5,951.55 L806.5,951.23 L807.5,950.91 L808.5,950.59 L809.5,950.26 L810.5,949.92 L811.5,949.58 L812.5,949.24 L813.5,948.90 L814.5,948.55 L815.5,948.19 L816.5,947.84 L817.5,947.48 L818.5,947.11 L819.5,946.74 L820.5,946.37 L821.5,945.99 L822.5,945.61 L823.5,945.22 L824.5,944.83 L825.5,944.43 L826.5,944.03 L827.5,943.63 L828.5,943.22 L829.5,942.80 L830.5,942.38 L831.5,941.96 L832.5,941.53 L833.5,941.09 L834.5,940.65 L835.5,940.21 L836.5,939.76 L837.5,939.30 L838.5,938.84 L839.5,938.37 L840.5,937.90 L841.5,937.42 L842.5,936.94 L843.5,936.45 L844.5,935.95 L845.5,935.45 L846.5,934.94 L847.5,934.43 L848.5,933.91 L849.5,933.38 L850.5,932.85 L851.5,932.31 L852.5,931.76 L853.5,931.21 L854.5,930.65 L855.5,930.08 L856.5,929.51 L857.5,928.93 L858.5,928.34 L859.5,927.74 L860.5,927.14 L861.5,926.53 L862.5,925.91 L863.5,925.29 L864.5,924.65 L865.5,924.01 L866.5,923.36 L867.5,922.70 L868.5,922.03 L869.5,921.36 L870.5,920.68 L871.5,919.98 L872.5,919.28 L873.5,918.57 L874.5,917.85 L875.5,917.12 L876.5,916.39 L877.5,915.64 L878.5,914.88 L879.5,914.12 L880.5,913.34 L881.5,912.55 L882.5,911.76 L883.5,910.95 L884.5,910.13 L885.5,909.30 L886.5,908.47 L887.5,907.62 L888.5,906.75 L889.5,905.88 L890.5,905.00 L891.5,904.10 L892.5,903.20 L893.5,902.28 L894.5,901.35 L895.5,900.41 L896.5,899.45 L897.5,898.48 L898.5,897.50 L899.5,896.51 L900.5,895.51 L901.5,894.49 L902.5,893.45 L903.5,892.41 L904.5,891.35 L905.5,890.28 L906.5,889.19 L907.5,888.09 L908.5,886.97 L909.5,885.84 L910.5,884.69 L911.5,883.53 L912.5,882.36 L913.5,881.16 L914.5,879.96 L915.5,878.73 L916.5,877.50 L917.5,876.24 L918.5,874.97 L919.5,873.68 L920.5,872.38 L921.5,871.06 L922.5,869.72 L923.5,868.36 L924.5,866.99 L925.5,865.60 L926.5,864.19 L927.5,862.76 L928.5,861.32 L929.5,859.85 L930.5,858.37 L931.5,856.87 L932.5,855.35 L933.5,853.81 L934.5,852.25 L935.5,850.67 L936.5,849.08 L937.5,847.46 L938.5,845.82 L939.5,844.16 L940.5,842.49 L941.5,840.79 L942.5,839.07 L943.5,837.33 L944.5,835.57 L945.5,833.78 L946.5,831.98 L947.5,830.16 L948.5,828.31 L949.5,826.44 L950.5,824.55 L951.5,822.64 L952.5,820.71 L953.5,818.75 L954.5,816.78 L955.5,814.78 L956.5,812.76 L957.5,810.71 L958.5,808.65 L959.5,806.56 L960.5,804.45 L961.5,802.32 L962.5,800.17 L963.5,797.99 L964.5,795.80 L965.5,793.58 L966.5,791.34 L967.5,789.08 L968.5,786.79 L969.5,784.49 L970.5,782.16 L971.5,779.81 L972.5,777.44 L973.5,775.06 L974.5,772.65 L975.5,770.22 L976.5,767.77 L977.5,765.30 L978.5,762.81 L979.5,760.31 L980.5,757.78 L981.5,755.24 L982.5,752.68 L983.5,750.10 L984.5,747.51 L985.5,744.90 L986.5,742.27 L987.5,739.63 L988.5,736.98 L989.5,734.31 L990.5,731.63 L991.5,728.93 L992.5,726.23 L993.5,723.51 L994.5,720.78 L995.5,718.05 L996.5,715.30 L997.5,712.55 L998.5,709.79 L999.5,707.02 L1000.5,704.25 L1001.5,701.47 L1002.5,698.69 L1003.5,695.91 L1004.5,693.13 L1005.5,690.34 L1006.5,687.56 L1007.5,684.78 L1008.5,682.00 L1009.5,679.22 L1010.5,676.46 L1011.5,673.69 L1012.5,670.94 L1013.5,668.19 L1014.5,665.45 L1015.5,662.72 L1016.5,660.01 L1017.5,657.31 L1018.5,654.62 L1019.5,651.95 L1020.5,649.29 L1021.5,646.66 L1022.5,644.04 L1023.5,641.44 L1024.5,638.87 L1025.5,636.31 L1026.5,633.78 L1027.5,631.28 L1028.5,628.80 L1029.5,626.35 L1030.5,623.92 L1031.5,621.53 L1032.5,619.17 L1033.5,616.83 L1034.5,614.53 L1035.5,612.27 L1036.5,610.03 L1037.5,607.83 L1038.5,605.67 L1039.5,603.54 L1040.5,601.45 L1041.5,599.40 L1042.5,597.39 L1043.5,595.42 L1044.5,593.48 L1045.5,591.59 L1046.5,589.73 L1047.5,587.92 L1048.5,586.15 L1049.5,584.42 L1050.5,582.74 L1051.5,581.09 L1052.5,579.49 L1053.5,577.93 L1054.5,576.41 L1055.5,574.94 L1056.5,573.51 L1057.5,572.12 L1058.5,570.78 L1059.5,569.48 L1060.5,568.21 L1061.5,567.00 L1062.5,565.82 L1063.5,564.68 L1064.5,563.59 L1065.5,562.54 L1066.5,561.52 L1067.5,560.55 L1068.5,559.62 L1069.5,558.72 L1070.5,557.86 L1071.5,557.04 L1072.5,556.26 L1073.5,555.51 L1074.5,554.80 L1075.5,554.12 L1076.5,553.48 L1077.5,552.87 L1078.5,552.29 L1079.5,551.74 L1080.5,551.22 L1081.5,550.74 L1082.5,550.28 L1083.5,549.85 L1084.5,549.44 L1085.5,549.07 L1086.5,548.72 L1087.5,548.39 L1088.5,548.08 L1089.5,547.80 L1090.5,547.54 L1091.5,547.30 L1092.5,547.10 L1093.5,547.10 L1094.5,547.10 L1095.5,547.10 L1096.5,547.10 L1097.5,547.10 L1098.5,547.10 L1099.5,547.10 L1100.5,547.10 L1101.5,547.10 L1102.5,547.10 L1103.5,547.10 L1104.5,547.10 L1105.5,547.10 L1106.5,547.10 L1107.5,547.10 L1108.5,547.10 L1109.5,547.10 L1110.5,547.10 L1111.5,547.10 L1112.5,547.10 L1113.5,547.10 L1114.5,547.10 L1115.5,547.10 L1116.5,547.10 L1117.5,547.10 L1118.5,547.10 L1119.5,547.10 L1120.5,547.10 L1121.5,547.10 L1122.5,547.10 L1123.5,547.10 L1124.5,547.10 L1125.5,547.10 L1126.5,547.10 L1127.5,547.10 L1128.5,547.10 L1129.5,547.10 L1130.5,547.10 L1131.5,547.10 L1132.5,547.10 L1133.5,547.10 L1134.5,547.10 L1135.5,547.10 L1136.5,547.10 L1137.5,547.10 L1138.5,547.10 L1139.5,547.10 L1140.5,547.10 L1141.5,547.10 L1142.5,547.10 L1143.5,547.10 L1144.5,547.12 L1145.5,547.35 L1146.5,547.59 L1147.5,547.86 L1148.5,548.14 L1149.5,548.45 L1150.5,548.78 L1151.5,549.14 L1152.5,549.52 L1153.5,549.93 L1154.5,550.37 L1155.5,550.83 L1156.5,551.32 L1157.5,551.85 L1158.5,552.40 L1159.5,552.98 L1160.5,553.60 L1161.5,554.25 L1162.5,554.94 L1163.5,555.66 L1164.5,556.41 L1165.5,557.20 L1166.5,558.03 L1167.5,558.90 L1168.5,559.80 L1169.5,560.74 L1170.5,561.72 L1171.5,562.74 L1172.5,563.81 L1173.5,564.91 L1174.5,566.05 L1175.5,567.24 L1176.5,568.46 L1177.5,569.73 L1178.5,571.04 L1179.5,572.40 L1180.5,573.79 L1181.5,575.23 L1182.5,576.71 L1183.5,578.24 L1184.5,579.81 L1185.5,581.42 L1186.5,583.07 L1187.5,584.76 L1188.5,586.50 L1189.5,588.28 L1190.5,590.10 L1191.5,591.96 L1192.5,593.86 L1193.5,595.81 L1194.5,597.79 L1195.5,599.81 L1196.5,601.87 L1197.5,603.97 L1198.5,606.10 L1199.5,608.27 L1200.5,610.48 L1201.5,612.72 L1202.5,614.99 L1203.5,617.30 L1204.5,619.64 L1205.5,622.01 L1206.5,624.41 L1207.5,626.84 L1208.5,629.29 L1209.5,631.78 L1210.5,634.29 L1211.5,636.82 L1212.5,639.38 L1213.5,641.96 L1214.5,644.56 L1215.5,647.18 L1216.5,649.82 L1217.5,652.48 L1218.5,655.16 L1219.5,657.85 L1220.5,660.55 L1221.5,663.27 L1222.5,666.00 L1223.5,668.74 L1224.5,671.49 L1225.5,674.24 L1226.5,677.01 L1227.5,679.78 L1228.5,682.55 L1229.5,685.33 L1230.5,688.12 L1231.5,690.90 L1232.5,693.68 L1233.5,696.47 L1234.5,699.25 L1235.5,702.03 L1236.5,704.80 L1237.5,707.57 L1238.5,710.34 L1239.5,713.10 L1240.5,715.85 L1241.5,718.59 L1242.5,721.33 L1243.5,724.05 L1244.5,726.77 L1245.5,729.47 L1246.5,732.17 L1247.5,734.84 L1248.5,737.51 L1249.5,740.16 L1250.5,742.80 L1251.5,745.42 L1252.5,748.03 L1253.5,750.62 L1254.5,753.19 L1255.5,755.75 L1256.5,758.29 L1257.5,760.81 L1258.5,763.31 L1259.5,765.80 L1260.5,768.26 L1261.5,770.71 L1262.5,773.13 L1263.5,775.54 L1264.5,777.92 L1265.5,780.28 L1266.5,782.63 L1267.5,784.95 L1268.5,787.25 L1269.5,789.53 L1270.5,791.79 L1271.5,794.02 L1272.5,796.24 L1273.5,798.43 L1274.5,800.60 L1275.5,802.75 L1276.5,804.88 L1277.5,806.98 L1278.5,809.06 L1279.5,811.12 L1280.5,813.16 L1281.5,815.18 L1282.5,817.17 L1283.5,819.15 L1284.5,821.10 L1285.5,823.02 L1286.5,824.93 L1287.5,826.82 L1288.5,828.68 L1289.5,830.52 L1290.5,832.34 L1291.5,834.14 L1292.5,835.92 L1293.5,837.68 L1294.5,839.41 L1295.5,841.13 L1296.5,842.82 L1297.5,844.50 L1298.5,846.15 L1299.5,847.78 L1300.5,849.40 L1301.5,850.99 L1302.5,852.57 L1303.5,854.12 L1304.5,855.66 L1305.5,857.17 L1306.5,858.67 L1307.5,860.15 L1308.5,861.61 L1309.5,863.05 L1310.5,864.47 L1311.5,865.88 L1312.5,867.27 L1313.5,868.63 L1314.5,869.99 L1315.5,871.32 L1316.5,872.64 L1317.5,873.94 L1318.5,875.23 L1319.5,876.49 L1320.5,877.75 L1321.5,878.98 L1322.5,880.20 L1323.5,881.40 L1324.5,882.59 L1325.5,883.77 L1326.5,884.92 L1327.5,886.07 L1328.5,887.19 L1329.5,888.31 L1330.5,889.41 L1331.5,890.49 L1332.5,891.56 L1333.5,892.62 L1334.5,893.66 L1335.5,894.69 L1336.5,895.71 L1337.5,896.71 L1338.5,897.70 L1339.5,898.68 L1340.5,899.64 L1341.5,900.60 L1342.5,901.54 L1343.5,902.46 L1344.5,903.38 L1345.5,904.28 L1346.5,905.18 L1347.5,906.06 L1348.5,906.93 L1349.5,907.79 L1350.5,908.63 L1351.5,909.47 L1352.5,910.30 L1353.5,911.11 L1354.5,911.92 L1355.5,912.71 L1356.5,913.50 L1357.5,914.27 L1358.5,915.03 L1359.5,915.79 L1360.5,916.54 L1361.5,917.27 L1362.5,918.00 L1363.5,918.72 L1364.5,919.42 L1365.5,920.12 L1366.5,920.81 L1367.5,921.50 L1368.5,922.17 L1369.5,922.83 L1370.5,923.49 L1371.5,924.14 L1372.5,924.78 L1373.5,925.41 L1374.5,926.04 L1375.5,926.65 L1376.5,927.26 L1377.5,927.86 L1378.5,928.46 L1379.5,929.04 L1380.5,929.62 L1381.5,930.20 L1382.5,930.76 L1383.5,931.32 L1384.5,931.87 L1385.5,932.42 L1386.5,932.96 L1387.5,933.49 L1388.5,934.01 L1389.5,934.53 L1390.5,935.05 L1391.5,935.55 L1392.5,936.05 L1393.5,936.55 L1394.5,937.04 L1395.5,937.52 L1396.5,938.00 L1397.5,938.47 L1398.5,938.93 L1399.5,939.39 L1400.5,939.85 L1401.5,940.30 L1402.5,940.74 L1403.5,941.18 L1404.5,941.61 L1405.5,942.04 L1406.5,942.47 L1407.5,942.89 L1408.5,943.30 L1409.5,943.71 L1410.5,944.11 L1411.5,944.51 L1412.5,944.91 L1413.5,945.30 L1414.5,945.68 L1415.5,946.07 L1416.5,946.44 L1417.5,946.82 L1418.5,947.18 L1419.5,947.55 L1420.5,947.91 L1421.5,948.27 L1422.5,948.62 L1423.5,948.97 L1424.5,949.31 L1425.5,949.65 L1426.5,949.99 L1427.5,950.32 L1428.5,950.65 L1429.5,950.98 L1430.5,951.30 L1431.5,951.62 L1432.5,951.93 L1433.5,952.24 L1434.5,952.55 L1435.5,952.86 L1436.5,953.16 L1437.5,953.46 L1438.5,953.75 L1439.5,954.04 L1440.5,954.33 L1441.5,954.62 L1442.5,954.90 L1443.5,955.18 L1444.5,955.45 L1445.5,955.73 L1446.5,956.00 L1447.5,956.27 L1448.5,956.53 L1449.5,956.79 L1450.5,957.05 L1451.5,957.31 L1452.5,957.56 L1453.5,957.81 L1454.5,958.06 L1455.5,958.31 L1456.5,958.55 L1457.5,958.79 L1458.5,959.03 L1459.5,959.26 L1460.5,959.50 L1461.5,959.73 L1462.5,959.96 L1463.5,960.18 L1464.5,960.41 L1465.5,960.63 L1466.5,960.85 L1467.5,961.06 L1468.5,961.28 L1469.5,961.49 L1470.5,961.70 L1471.5,961.91 L1472.5,962.12 L1473.5,962.32 L1474.5,962.52 L1475.5,962.72 L1476.5,962.92 L1477.5,963.12 L1478.5,963.31 L1479.5,963.50 L1480.5,963.69 L1481.5,963.88 L1482.5,964.07 L1483.5,964.25 L1484.5,964.44 L1485.5,964.62 L1486.5,964.80 L1487.5,964.97 L1488.5,965.15 L1489.5,965.32 L1490.5,965.50 L1491.5,965.67 L1492.5,965.84 L1493.5,966.01 L1494.5,966.17 L1495.5,966.34 L1496.5,966.50 L1497.5,966.66 L1498.5,966.82 L1499.5,966.98 L1500.5,967.13 L1501.5,967.29 L1502.5,967.44 L1503.5,967.60 L1504.5,967.75 L1505.5,967.90 L1506.5,968.04 L1507.5,968.19 L1508.5,968.34 L1509.5,968.48 L1510.5,968.62 L1511.5,968.77 L1512.5,968.91 L1513.5,969.04 L1514.5,969.18 L1515.5,969.32 L1516.5,969.45 L1517.5,969.59 L1518.5,969.72 L1519.5,969.85 L1520.5,969.98 L1521.5,970.11 L1522.5,970.24 L1523.5,970.36 L1524.5,970.49 L1525.5,970.61 L1526.5,970.74 L1527.5,970.86 L1528.5,970.98 L1529.5,971.10 L1530.5,971.22 L1531.5,971.34 L1532.5,971.46 L1533.5,971.57 L1534.5,971.69 L1535.5,971.80 L1536.5,971.91 L1537.5,972.02 L1538.5,972.14 L1539.5,972.25 L1540.5,972.35 L1541.5,972.46 L1542.5,972.57 L1543.5,972.68 L1544.5,972.78 L1545.5,972.89 L1546.5,972.99 L1547.5,973.09 L1548.5,973.19 L1549.5,973.29 L1550.5,973.39 L1551.5,973.49 L1552.5,973.59 L1553.5,973.69 L1554.5,973.79 L1555.5,973.88 L1556.5,973.98 L1557.5,974.07 L1558.5,974.16 L1559.5,974.26 L1560.5,974.35 L1561.5,974.44 L1562.5,974.53 L1563.5,974.62 L1564.5,974.71 L1565.5,974.80 L1566.5,974.88 L1567.5,974.97 L1568.5,975.06 L1569.5,975.14 L1570.5,975.23 L1571.5,975.31 L1572.5,975.39 L1573.5,975.48 L1574.5,975.56 L1575.5,975.64 L1576.5,975.72 L1577.5,975.80 L1578.5,975.88 L1579.5,975.96 L1580.5,976.04 L1581.5,976.11 L1582.5,976.19 L1583.5,976.27 L1584.5,976.34 L1585.5,976.42 L1586.5,976.49 L1587.5,976.57 L1588.5,976.64 L1589.5,976.71 L1590.5,976.78 L1591.5,976.86 L1592.5,976.93 L1593.5,977.00 L1594.5,977.07 L1595.5,977.14 L1596.5,977.20 L1597.5,977.27 L1598.5,977.34 L1599.5,977.41 L1600.5,977.47 L1601.5,977.54 L1602.5,977.61 L1603.5,977.67 L1604.5,977.74 L1605.5,977.80 L1606.5,977.86 L1607.5,977.93 L1608.5,977.99 L1609.5,978.05 L1610.5,978.11 L1611.5,978.18 L1612.5,978.24 L1613.5,978.30 L1614.5,978.36 L1615.5,978.42 L1616.5,978.48 L1617.5,978.53 L1618.5,978.59 L1619.5,978.65 L1620.5,978.71 L1621.5,978.76 L1622.5,978.82 L1623.5,978.88 L1624.5,978.93 L1625.5,978.99 L1626.5,979.04 L1627.5,979.10 L1628.5,979.15 L1629.5,979.20 L1630.5,979.26 L1631.5,979.31 L1632.5,979.36 L1633.5,979.42 L1634.5,979.47 L1635.5,979.52 L1636.5,979.57 L1637.5,979.62 L1638.5,979.67 L1639.5,979.72 L1640.5,979.77 L1641.5,979.82 L1642.5,979.87 L1643.5,979.92 L1644.5,979.96 L1645.5,980.01 L1646.5,980.06 L1647.5,980.11 L1648.5,980.15 L1649.5,980.20 L1650.5,980.25 L1651.5,980.29 L1652.5,980.34 L1653.5,980.38 L1654.5,980.43 L1655.5,980.47 L1656.5,980.52 L1657.5,980.56 L1658.5,980.60 L1659.5,980.65 L1660.5,980.69 L1661.5,980.73 L1662.5,980.78 L1663.5,980.82 L1664.5,980.86 L1665.5,980.90 L1666.5,980.94 L1667.5,980.98 L1668.5,981.03 L1669.5,981.07 L1670.5,981.11 L1671.5,981.15 L1672.5,981.19 L1673.5,981.22 L1674.5,981.26 L1675.5,981.30 L1676.5,981.34 L1677.5,981.38 L1678.5,981.42 L1679.5,981.46 L1680.5,981.49 L1681.5,981.53 L1682.5,981.57 L1683.5,981.60 L1684.5,981.64 L1685.5,981.68 L1686.5,981.71 L1687.5,981.75 L1688.5,981.79 L1689.5,981.82 L1690.5,981.86 L1691.5,981.89 L1692.5,981.93 L1693.5,981.96 L1694.5,981.99 L1695.5,982.03 L1696.5,982.06 L1697.5,982.10 L1698.5,982.13 L1699.5,982.16 L1700.5,982.20 L1701.5,982.23 L1702.5,982.26 L1703.5,982.29 L1704.5,982.33 L1705.5,982.36 L1706.5,982.39 L1707.5,982.42 L1708.5,982.45 L1709.5,982.48 L1710.5,982.51 L1711.5,982.54 L1712.5,982.58 L1713.5,982.61 L1714.5,982.64 L1715.5,982.67 L1716.5,982.70 L1717.5,982.73 L1718.5,982.75 L1719.5,982.78 L1720.5,982.81 L1721.5,982.84 L1722.5,982.87 L1723.5,982.90 L1724.5,982.93 L1725.5,982.96 L1726.5,982.98 L1727.5,983.01 L1728.5,983.04 L1729.5,983.07 L1730.5,983.09 L1731.5,983.12 L1732.5,983.15 L1733.5,983.17 L1734.5,983.20 L1735.5,983.23 L1736.5,983.25 L1737.5,983.28 L1738.5,983.31 L1739.5,983.33 L1740.5,983.36 L1741.5,983.38 L1742.5,983.41 L1743.5,983.43 L1744.5,983.46 L1745.5,983.48 L1746.5,983.51 L1747.5,983.53 L1748.5,983.56 L1749.5,983.58 L1750.5,983.61 L1751.5,983.63 L1752.5,983.65 L1753.5,983.68 L1754.5,983.70 L1755.5,983.73 L1756.5,983.75 L1757.5,983.77 L1758.5,983.79 L1759.5,983.82 L1760.5,983.84 L1761.5,983.86 L1762.5,983.89 L1763.5,983.91 L1764.5,983.93 L1765.5,983.95 L1766.5,983.97 L1767.5,984.00 L1768.5,984.02 L1769.5,984.04 L1770.5,984.06 L1771.5,984.08 L1772.5,984.10 L1773.5,984.13 L1774.5,984.15 L1775.5,984.17 L1776.5,984.19 L1777.5,984.21 L1778.5,984.23 L1779.5,984.25 L1780.5,984.27 L1781.5,984.29 L1782.5,984.31 L1783.5,984.33 L1784.5,984.35 L1785.5,984.37 L1786.5,984.39 L1787.5,984.41 L1788.5,984.43 L1789.5,984.45 L1790.5,984.47 L1791.5,984.49 L1792.5,984.51 L1793.5,984.52 L1794.5,984.54 L1795.5,984.56 L1796.5,984.58 L1797.5,984.60 L1798.5,984.62 L1799.5,984.64 L1800.5,984.65 L1801.5,984.67 L1802.5,984.69 L1803.5,984.71 L1804.5,984.73 L1805.5,984.74 L1806.5,984.76 L1807.5,984.78 L1808.5,984.80 L1809.5,984.81 L1810.5,984.83 L1811.5,984.85 L1812.5,984.86 L1813.5,984.88 L1814.5,984.90 L1815.5,984.91 L1816.5,984.93 L1817.5,984.95 L1818.5,984.96 L1819.5,984.98 L1820.5,985.00 L1821.5,985.01 L1822.5,985.03 L1823.5,985.05 L1824.5,985.06 L1825.5,985.08 L1826.5,985.09 L1827.5,985.11 L1828.5,985.12 L1829.5,985.14 L1830.5,985.16 L1831.5,985.17 L1832.5,985.19 L1833.5,985.20 L1834.5,985.22 L1835.5,985.23 L1836.5,985.25 L1837.5,985.26 L1838.5,985.28 L1839.5,985.29 L1840.5,985.31 L1841.5,985.32 L1842.5,985.33 L1843.5,985.35 L1844.5,985.36" stroke-width="2" stroke-dasharray="10 3 3 4"/>
<path d="M391.5,984.19 L392.5,984.18 L393.5,984.16 L394.5,984.15 L395.5,984.13 L396.5,984.11 L397.5,984.10 L398.5,984.08 L399.5,984.07 L400.5,984.05 L401.5,984.04 L402.5,984.02 L403.5,984.00 L404.5,983.99 L405.5,983.97 L406.5,983.95 L407.5,983.94 L408.5,983.92 L409.5,983.90 L410.5,983.89 L411.5,983.87 L412.5,983.85 L413.5,983.84 L414.5,983.82 L415.5,983.80 L416.5,983.79 L417.5,983.77 L418.5,983.75 L419.5,983.73 L420.5,983.72 L421.5,983.70 L422.5,983.68 L423.5,983.66 L424.5,983.64 L425.5,983.63 L426.5,983.61 L427.5,983.59 L428.5,983.57 L429.5,983.55 L430.5,983.54 L431.5,983.52 L432.5,983.50 L433.5,983.48 L434.5,983.46 L435.5,983.44 L436.5,983.42 L437.5,983.40 L438.5,983.39 L439.5,983.37 L440.5,983.35 L441.5,983.33 L442.5,983.31 L443.5,983.29 L444.5,983.27 L445.5,983.25 L446.5,983.23 L447.5,983.21 L448.5,983.19 L449.5,983.17 L450.5,983.15 L451.5,983.13 L452.5,983.11 L453.5,983.09 L454.5,983.07 L455.5,983.05 L456.5,983.03 L457.5,983.01 L458.5,982.98 L459.5,982.96 L460.5,982.94 L461.5,982.92 L462.5,982.90 L463.5,982.88 L464.5,982.86 L465.5,982.83 L466.5,982.81 L467.5,982.79 L468.5,982.77 L469.5,982.75 L470.5,982.72 L471.5,982.70 L472.5,982.68 L473.5,982.66 L474.5,982.63 L475.5,982.61 L476.5,982.59 L477.5,982.56 L478.5,982.54 L479.5,982.52 L480.5,982.49 L481.5,982.47 L482.5,982.45 L483.5,982.42 L484.5,982.40 L485.5,982.38 L486.5,982.35 L487.5,982.33 L488.5,982.30 L489.5,982.28 L490.5,982.25 L491.5,982.23 L492.5,982.20 L493.5,982.18 L494.5,982.15 L495.5,982.13 L496.5,982.10 L497.5,982.08 L498.5,982.05 L499.5,982.03 L500.5,982.00 L501.5,981.97 L502.5,981.95 L503.5,981.92 L504.5,981.89 L505.5,981.87 L506.5,981.84 L507.5,981.81 L508.5,981.79 L509.5,981.76 L510.5,981.73 L511.5,981.70 L512.5,981.68 L513.5,981.65 L514.5,981.62 L515.5,981.59 L516.5,981.56 L517.5,981.54 L518.5,981.51 L519.5,981.48 L520.5,981.45 L521.5,981.42 L522.5,981.39 L523.5,981.36 L524.5,981.33 L525.5,981.30 L526.5,981.27 L527.5,981.24 L528.5,981.21 L529.5,981.18 L530.5,981.15 L531.5,981.12 L532.5,981.09 L533.5,981.06 L534.5,981.03 L535.5,981.00 L536.5,980.97 L537.5,980.93 L538.5,980.90 L539.5,980.87 L540.5,980.84 L541.5,980.80 L542.5,980.77 L543.5,980.74 L544.5,980.71 L545.5,980.67 L546.5,980.64 L547.5,980.61 L548.5,980.57 L549.5,980.54 L550.5,980.50 L551.5,980.47 L552.5,980.44 L553.5,980.40 L554.5,980.37 L555.5,980.33 L556.5,980.30 L557.5,980.26 L558.5,980.22 L559.5,980.19 L560.5,980.15 L561.5,980.12 L562.5,980.08 L563.5,980.04 L564.5,980.01 L565.5,979.97 L566.5,979.93 L567.5,979.89 L568.5,979.86 L569.5,979.82 L570.5,979.78 L571.5,979.74 L572.5,979.70 L573.5,979.66 L574.5,979.62 L575.5,979.59 L576.5,979.55 L577.5,979.51 L578.5,979.47 L579.5,979.43 L580.5,979.38 L581.5,979.34 L582.5,979.30 L583.5,979.26 L584.5,979.22 L585.5,979.18 L586.5,979.14 L587.5,979.09 L588.5,979.05 L589.5,979.01 L590.5,978.97 L591.5,978.92 L592.5,978.88 L593.5,978.83 L594.5,978.79 L595.5,978.75 L596.5,978.70 L597.5,978.66 L598.5,978.61 L599.5,978.57 L600.5,978.52 L601.5,978.47 L602.5,978.43 L603.5,978.38 L604.5,978.33 L605.5,978.29 L606.5,978.24 L607.5,978.19 L608.5,978.14 L609.5,978.09 L610.5,978.05 L611.5,978.00 L612.5,977.95 L613.5,977.90 L614.5,977.85 L615.5,977.80 L616.5,977.75 L617.5,977.70 L618.5,977.64 L619.5,977.59 L620.5,977.54 L621.5,977.49 L622.5,977.44 L623.5,977.38 L624.5,977.33 L625.5,977.28 L626.5,977.22 L627.5,977.17 L628.5,977.11 L629.5,977.06 L630.5,977.00 L631.5,976.95 L632.5,976.89 L633.5,976.83 L634.5,976.78 L635.5,976.72 L636.5,976.66 L637.5,976.60 L638.5,976.55 L639.5,976.49 L640.5,976.43 L641.5,976.37 L642.5,976.31 L643.5,976.25 L644.5,976.19 L645.5,976.13 L646.5,976.06 L647.5,976.00 L648.5,975.94 L649.5,975.88 L650.5,975.81 L651.5,975.75 L652.5,975.69 L653.5,975.62 L654.5,975.56 L655.5,975.49 L656.5,975.42 L657.5,975.36 L658.5,975.29 L659.5,975.22 L660.5,975.16 L661.5,975.09 L662.5,975.02 L663.5,974.95 L664.5,974.88 L665.5,974.81 L666.5,974.74 L667.5,974.67 L668.5,974.60 L669.5,974.52 L670.5,974.45 L671.5,974.38 L672.5,974.30 L673.5,974.23 L674.5,974.16 L675.5,974.08 L676.5,974.00 L677.5,973.93 L678.5,973.85 L679.5,973.77 L680.5,973.70 L681.5,973.62 L682.5,973.54 L683.5,973.46 L684.5,973.38 L685.5,973.30 L686.5,973.22 L687.5,973.13 L688.5,973.05 L689.5,972.97 L690.5,972.88 L691.5,972.80 L692.5,972.71 L693.5,972.63 L694.5,972.54 L695.5,972.45 L696.5,972.37 L697.5,972.28 L698.5,972.19 L699.5,972.10 L700.5,972.01 L701.5,971.92 L702.5,971.83 L703.5,971.73 L704.5,971.64 L705.5,971.55 L706.5,971.45 L707.5,971.36 L708.5,971.26 L709.5,971.16 L710.5,971.07 L711.5,970.97 L712.5,970.87 L713.5,970.77 L714.5,970.67 L715.5,970.57 L716.5,970.47 L717.5,970.36 L718.5,970.26 L719.5,970.16 L720.5,970.05 L721.5,969.94 L722.5,969.84 L723.5,969.73 L724.5,969.62 L725.5,969.51 L726.5,969.40 L727.5,969.29 L728.5,969.18 L729.5,969.06 L730.5,968.95 L731.5,968.83 L732.5,968.72 L733.5,968.60 L734.5,968.48 L735.5,968.37 L736.5,968.25 L737.5,968.13 L738.5,968.00 L739.5,967.88 L740.5,967.76 L741.5,967.63 L742.5,967.51 L743.5,967.38 L744.5,967.25 L745.5,967.12 L746.5,966.99 L747.5,966.86 L748.5,966.73 L749.5,966.60 L750.5,966.46 L751.5,966.33 L752.5,966.19 L753.5,966.05 L754.5,965.91 L755.5,965.77 L756.5,965.63 L757.5,965.49 L758.5,965.35 L759.5,965.20 L760.5,965.06 L761.5,964.91 L762.5,964.76 L763.5,964.61 L764.5,964.46 L765.5,964.30 L766.5,964.15 L767.5,964.00 L768.5,963.84 L769.5,963.68 L770.5,963.52 L771.5,963.36 L772.5,963.20 L773.5,963.03 L774.5,962.87 L775.5,962.70 L776.5,962.53 L777.5,962.36 L778.5,962.19 L779.5,962.02 L780.5,961.85 L781.5,961.67 L782.5,961.49 L783.5,961.31 L784.5,961.13 L785.5,960.95 L786.5,960.77 L787.5,960.58 L788.5,960.39 L789.5,960.20 L790.5,960.01 L791.5,959.82 L792.5,959.62 L793.5,959.43 L794.5,959.23 L795.5,959.03 L796.5,958.83 L797.5,958.62 L798.5,958.42 L799.5,958.21 L800.5,958.00 L801.5,957.79 L802.5,957.57 L803.5,957.36 L804.5,957.14 L805.5,956.92 L806.5,956.70 L807.5,956.47 L808.5,956.25 L809.5,956.02 L810.5,955.79 L811.5,955.55 L812.5,955.32 L813.5,955.08 L814.5,954.84 L815.5,954.60 L816.5,954.35 L817.5,954.11 L818.5,953.86 L819.5,953.60 L820.5,953.35 L821.5,953.09 L822.5,952.83 L823.5,952.57 L824.5,952.30 L825.5,952.03 L826.5,951.76 L827.5,951.49 L828.5,951.21 L829.5,950.93 L830.5,950.65 L831.5,950.37 L832.5,950.08 L833.5,949.79 L834.5,949.49 L835.5,949.20 L836.5,948.90 L837.5,948.59 L838.5,948.29 L839.5,947.98 L840.5,947.66 L841.5,947.35 L842.5,947.03 L843.5,946.71 L844.5,946.38 L845.5,946.05 L846.5,945.71 L847.5,945.38 L848.5,945.04 L849.5,944.69 L850.5,944.34 L851.5,943.99 L852.5,943.64 L853.5,943.28 L854.5,942.91 L855.5,942.54 L856.5,942.17 L857.5,941.80 L858.5,941.41 L859.5,941.03 L860.5,940.64 L861.5,940.25 L862.5,939.85 L863.5,939.45 L864.5,939.04 L865.5,938.63 L866.5,938.21 L867.5,937.79 L868.5,937.37 L869.5,936.94 L870.5,936.50 L871.5,936.06 L872.5,935.61 L873.5,935.16 L874.5,934.71 L875.5,934.25 L876.5,933.78 L877.5,933.31 L878.5,932.83 L879.5,932.34 L880.5,931.85 L881.5,931.36 L882.5,930.86 L883.5,930.35 L884.5,929.84 L885.5,929.32 L886.5,928.79 L887.5,928.26 L888.5,927.72 L889.5,927.18 L890.5,926.62 L891.5,926.07 L892.5,925.50 L893.5,924.93 L894.5,924.35 L895.5,923.76 L896.5,923.17 L897.5,922.57 L898.5,921.96 L899.5,921.34 L900.5,920.72 L901.5,920.08 L902.5,919.44 L903.5,918.80 L904.5,918.14 L905.5,917.47 L906.5,916.80 L907.5,916.12 L908.5,915.43 L909.5,914.73 L910.5,914.02 L911.5,913.30 L912.5,912.57 L913.5,911.84 L914.5,911.09 L915.5,910.33 L916.5,909.57 L917.5,908.79 L918.5,908.00 L919.5,907.20 L920.5,906.40 L921.5,905.58 L922.5,904.75 L923.5,903.91 L924.5,903.05 L925.5,902.19 L926.5,901.31 L927.5,900.43 L928.5,899.53 L929.5,898.61 L930.5,897.69 L931.5,896.75 L932.5,895.80 L933.5,894.84 L934.5,893.86 L935.5,892.87 L936.5,891.87 L937.5,890.85 L938.5,889.82 L939.5,888.77 L940.5,887.71 L941.5,886.63 L942.5,885.54 L943.5,884.43 L944.5,883.31 L945.5,882.17 L946.5,881.01 L947.5,879.84 L948.5,878.65 L949.5,877.44 L950.5,876.22 L951.5,874.98 L952.5,873.72 L953.5,872.44 L954.5,871.14 L955.5,869.82 L956.5,868.49 L957.5,867.13 L958.5,865.76 L959.5,864.36 L960.5,862.95 L961.5,861.51 L962.5,860.05 L963.5,858.57 L964.5,857.07 L965.5,855.54 L966.5,853.99 L967.5,852.42 L968.5,850.83 L969.5,849.21 L970.5,847.56 L971.5,845.89 L972.5,844.20 L973.5,842.48 L974.5,840.73 L975.5,838.96 L976.5,837.16 L977.5,835.33 L978.5,833.47 L979.5,831.59 L980.5,829.68 L981.5,827.73 L982.5,825.76 L983.5,823.76 L984.5,821.72 L985.5,819.66 L986.5,817.56 L987.5,815.43 L988.5,813.26 L989.5,811.07 L990.5,808.83 L991.5,806.57 L992.5,804.27 L993.5,801.93 L994.5,799.55 L995.5,797.14 L996.5,794.69 L997.5,792.21 L998.5,789.68 L999.5,787.12 L1000.5,784.51 L1001.5,781.86 L1002.5,779.18 L1003.5,776.45 L1004.5,773.68 L1005.5,770.86 L1006.5,768.01 L1007.5,765.10 L1008.5,762.16 L1009.5,759.16 L1010.5,756.13 L1011.5,753.04 L1012.5,749.91 L1013.5,746.73 L1014.5,743.50 L1015.5,740.22 L1016.5,736.89 L1017.5,733.52 L1018.5,730.09 L1019.5,726.61 L1020.5,723.08 L1021.5,719.49 L1022.5,715.86 L1023.5,712.17 L1024.5,708.42 L1025.5,704.62 L1026.5,700.77 L1027.5,696.86 L1028.5,692.90 L1029.5,688.88 L1030.5,684.80 L1031.5,680.67 L1032.5,676.48 L1033.5,672.23 L1034.5,667.93 L1035.5,663.56 L1036.5,659.14 L1037.5,654.67 L1038.5,650.13 L1039.5,645.54 L1040.5,640.89 L1041.5,636.19 L1042.5,631.42 L1043.5,626.60 L1044.5,621.73 L1045.5,616.80 L1046.5,611.81 L1047.5,606.77 L1048.5,601.67 L1049.5,596.53 L1050.5,591.33 L1051.5,586.07 L1052.5,580.77 L1053.5,575.42 L1054.5,570.02 L1055.5,564.58 L1056.5,559.09 L1057.5,553.56 L1058.5,547.99 L1059.5,542.38 L1060.5,536.73 L1061.5,531.05 L1062.5,525.34 L1063.5,519.60 L1064.5,513.83 L1065.5,508.03 L1066.5,502.22 L1067.5,496.39 L1068.5,490.54 L1069.5,484.68 L1070.5,478.82 L1071.5,472.95 L1072.5,467.08 L1073.5,461.22 L1074.5,455.37 L1075.5,449.53 L1076.5,443.71 L1077.5,437.91 L1078.5,432.14 L1079.5,426.40 L1080.5,420.70 L1081.5,415.05 L1082.5,409.45 L1083.5,403.90 L1084.5,398.41 L1085.5,392.99 L1086.5,387.64 L1087.5,382.37 L1088.5,377.19 L1089.5,372.09 L1090.5,367.10 L1091.5,362.21 L1092.5,357.43 L1093.5,352.76 L1094.5,348.22 L1095.5,343.81 L1096.5,339.53 L1097.5,335.40 L1098.5,331.41 L1099.5,327.57 L1100.5,323.90 L1101.5,320.38 L1102.5,317.04 L1103.5,313.87 L1104.5,310.89 L1105.5,308.09 L1106.5,305.48 L1107.5,303.06 L1108.5,300.84 L1109.5,298.82 L1110.5,297.01 L1111.5,295.41 L1112.5,294.01 L1113.5,292.83 L1114.5,291.87 L1115.5,291.12 L1116.5,290.60 L1117.5,290.29 L1118.5,290.20 L1119.5,290.33 L1120.5,290.69 L1121.5,291.26 L1122.5,292.05 L1123.5,293.05 L1124.5,294.28 L1125.5,295.71 L1126.5,297.36 L1127.5,299.21 L1128.5,301.27 L1129.5,303.53 L1130.5,305.98 L1131.5,308.63 L1132.5,311.47 L1133.5,314.49 L1134.5,317.70 L1135.5,321.07 L1136.5,324.62 L1137.5,328.33 L1138.5,332.19 L1139.5,336.21 L1140.5,340.38 L1141.5,344.68 L1142.5,349.12 L1143.5,353.69 L1144.5,358.37 L1145.5,363.18 L1146.5,368.09 L1147.5,373.11 L1148.5,378.22 L1149.5,383.42 L1150.5,388.70 L1151.5,394.07 L1152.5,399.50 L1153.5,405.00 L1154.5,410.56 L1155.5,416.18 L1156.5,421.84 L1157.5,427.55 L1158.5,433.29 L1159.5,439.06 L1160.5,444.87 L1161.5,450.69 L1162.5,456.54 L1163.5,462.39 L1164.5,468.26 L1165.5,474.12 L1166.5,479.99 L1167.5,485.85 L1168.5,491.71 L1169.5,497.55 L1170.5,503.38 L1171.5,509.19 L1172.5,514.98 L1173.5,520.75 L1174.5,526.48 L1175.5,532.19 L1176.5,537.87 L1177.5,543.51 L1178.5,549.11 L1179.5,554.67 L1180.5,560.19 L1181.5,565.67 L1182.5,571.11 L1183.5,576.50 L1184.5,581.84 L1185.5,587.13 L1186.5,592.37 L1187.5,597.56 L1188.5,602.70 L1189.5,607.78 L1190.5,612.81 L1191.5,617.79 L1192.5,622.71 L1193.5,627.57 L1194.5,632.38 L1195.5,637.13 L1196.5,641.83 L1197.5,646.47 L1198.5,651.05 L1199.5,655.57 L1200.5,660.03 L1201.5,664.44 L1202.5,668.79 L1203.5,673.08 L1204.5,677.32 L1205.5,681.50 L1206.5,685.62 L1207.5,689.68 L1208.5,693.69 L1209.5,697.65 L1210.5,701.54 L1211.5,705.39 L1212.5,709.17 L1213.5,712.91 L1214.5,716.59 L1215.5,720.21 L1216.5,723.79 L1217.5,727.31 L1218.5,730.78 L1219.5,734.20 L1220.5,737.56 L1221.5,740.88 L1222.5,744.15 L1223.5,747.37 L1224.5,750.54 L1225.5,753.66 L1226.5,756.74 L1227.5,759.77 L1228.5,762.75 L1229.5,765.69 L1230.5,768.58 L1231.5,771.43 L1232.5,774.23 L1233.5,777.00 L1234.5,779.72 L1235.5,782.40 L1236.5,785.03 L1237.5,787.63 L1238.5,790.19 L1239.5,792.71 L1240.5,795.19 L1241.5,797.63 L1242.5,800.03 L1243.5,802.40 L1244.5,804.73 L1245.5,807.02 L1246.5,809.28 L1247.5,811.51 L1248.5,813.70 L1249.5,815.86 L1250.5,817.98 L1251.5,820.07 L1252.5,822.13 L1253.5,824.16 L1254.5,826.16 L1255.5,828.12 L1256.5,830.06 L1257.5,831.97 L1258.5,833.85 L1259.5,835.70 L1260.5,837.52 L1261.5,839.32 L1262.5,841.08 L1263.5,842.82 L1264.5,844.54 L1265.5,846.23 L1266.5,847.89 L1267.5,849.53 L1268.5,851.15 L1269.5,852.74 L1270.5,854.30 L1271.5,855.85 L1272.5,857.37 L1273.5,858.87 L1274.5,860.34 L1275.5,861.80 L1276.5,863.23 L1277.5,864.64 L1278.5,866.03 L1279.5,867.41 L1280.5,868.76 L1281.5,870.09 L1282.5,871.40 L1283.5,872.69 L1284.5,873.97 L1285.5,875.23 L1286.5,876.46 L1287.5,877.68 L1288.5,878.89 L1289.5,880.07 L1290.5,881.24 L1291.5,882.40 L1292.5,883.53 L1293.5,884.65 L1294.5,885.76 L1295.5,886.85 L1296.5,887.92 L1297.5,888.98 L1298.5,890.02 L1299.5,891.05 L1300.5,892.07 L1301.5,893.07 L1302.5,894.06 L1303.5,895.03 L1304.5,895.99 L1305.5,896.94 L1306.5,897.88 L1307.5,898.80 L1308.5,899.71 L1309.5,900.61 L1310.5,901.49 L1311.5,902.36 L1312.5,903.23 L1313.5,904.08 L1314.5,904.91 L1315.5,905.74 L1316.5,906.56 L1317.5,907.37 L1318.5,908.16 L1319.5,908.95 L1320.5,909.72 L1321.5,910.48 L1322.5,911.24 L1323.5,911.98 L1324.5,912.72 L1325.5,913.44 L1326.5,914.16 L1327.5,914.87 L1328.5,915.57 L1329.5,916.26 L1330.5,916.94 L1331.5,917.61 L1332.5,918.27 L1333.5,918.93 L1334.5,919.57 L1335.5,920.21 L1336.5,920.84 L1337.5,921.47 L1338.5,922.08 L1339.5,922.69 L1340.5,923.29 L1341.5,923.88 L1342.5,924.47 L1343.5,925.04 L1344.5,925.61 L1345.5,926.18 L1346.5,926.74 L1347.5,927.29 L1348.5,927.83 L1349.5,928.37 L1350.5,928.90 L1351.5,929.42 L1352.5,929.94 L1353.5,930.45 L1354.5,930.96 L1355.5,931.46 L1356.5,931.95 L1357.5,932.44 L1358.5,932.92 L1359.5,933.40 L1360.5,933.87 L1361.5,934.34 L1362.5,934.80 L1363.5,935.25 L1364.5,935.70 L1365.5,936.15 L1366.5,936.59 L1367.5,937.02 L1368.5,937.45 L1369.5,937.88 L1370.5,938.30 L1371.5,938.71 L1372.5,939.12 L1373.5,939.53 L1374.5,939.93 L1375.5,940.33 L1376.5,940.72 L1377.5,941.11 L1378.5,941.49 L1379.5,941.87 L1380.5,942.25 L1381.5,942.62 L1382.5,942.98 L1383.5,943.35 L1384.5,943.71 L1385.5,944.06 L1386.5,944.41 L1387.5,944.76 L1388.5,945.11 L1389.5,945.45 L1390.5,945.78 L1391.5,946.11 L1392.5,946.44 L1393.5,946.77 L1394.5,947.09 L1395.5,947.41 L1396.5,947.73 L1397.5,948.04 L1398.5,948.35 L1399.5,948.66 L1400.5,948.96 L1401.5,949.26 L1402.5,949.55 L1403.5,949.85 L1404.5,950.14 L1405.5,950.42 L1406.5,950.71 L1407.5,950.99 L1408.5,951.27 L1409.5,951.55 L1410.5,951.82 L1411.5,952.09 L1412.5,952.36 L1413.5,952.62 L1414.5,952.88 L1415.5,953.14 L1416.5,953.40 L1417.5,953.65 L1418.5,953.91 L1419.5,954.16 L1420.5,954.40 L1421.5,954.65 L1422.5,954.89 L1423.5,955.13 L1424.5,955.37 L1425.5,955.60 L1426.5,955.83 L1427.5,956.06 L1428.5,956.29 L1429.5,956.52 L1430.5,956.74 L1431.5,956.96 L1432.5,957.18 L1433.5,957.40 L1434.5,957.62 L1435.5,957.83 L1436.5,958.04 L1437.5,958.25 L1438.5,958.46 L1439.5,958.66 L1440.5,958.87 L1441.5,959.07 L1442.5,959.27 L1443.5,959.47 L1444.5,959.66 L1445.5,959.86 L1446.5,960.05 L1447.5,960.24 L1448.5,960.43 L1449.5,960.62 L1450.5,960.80 L1451.5,960.99 L1452.5,961.17 L1453.5,961.35 L1454.5,961.53 L1455.5,961.70 L1456.5,961.88 L1457.5,962.05 L1458.5,962.23 L1459.5,962.40 L1460.5,962.57 L1461.5,962.74 L1462.5,962.90 L1463.5,963.07 L1464.5,963.23 L1465.5,963.39 L1466.5,963.55 L1467.5,963.71 L1468.5,963.87 L1469.5,964.03 L1470.5,964.18 L1471.5,964.34 L1472.5,964.49 L1473.5,964.64 L1474.5,964.79 L1475.5,964.94 L1476.5,965.08 L1477.5,965.23 L1478.5,965.38 L1479.5,965.52 L1480.5,965.66 L1481.5,965.80 L1482.5,965.94 L1483.5,966.08 L1484.5,966.22 L1485.5,966.35 L1486.5,966.49 L1487.5,966.62 L1488.5,966.76 L1489.5,966.89 L1490.5,967.02 L1491.5,967.15 L1492.5,967.28 L1493.5,967.41 L1494.5,967.53 L1495.5,967.66 L1496.5,967.78 L1497.5,967.91 L1498.5,968.03 L1499.5,968.15 L1500.5,968.27 L1501.5,968.39 L1502.5,968.51 L1503.5,968.63 L1504.5,968.74 L1505.5,968.86 L1506.5,968.97 L1507.5,969.09 L1508.5,969.20 L1509.5,969.31 L1510.5,969.42 L1511.5,969.53 L1512.5,969.64 L1513.5,969.75 L1514.5,969.86 L1515.5,969.97 L1516.5,970.07 L1517.5,970.18 L1518.5,970.28 L1519.5,970.38 L1520.5,970.49 L1521.5,970.59 L1522.5,970.69 L1523.5,970.79 L1524.5,970.89 L1525.5,970.99 L1526.5,971.09 L1527.5,971.18 L1528.5,971.28 L1529.5,971.38 L1530.5,971.47 L1531.5,971.57 L1532.5,971.66 L1533.5,971.75 L1534.5,971.85 L1535.5,971.94 L1536.5,972.03 L1537.5,972.12 L1538.5,972.21 L1539.5,972.30 L1540.5,972.38 L1541.5,972.47 L1542.5,972.56 L1543.5,972.65 L1544.5,972.73 L1545.5,972.82 L1546.5,972.90 L1547.5,972.98 L1548.5,973.07 L1549.5,973.15 L1550.5,973.23 L1551.5,973.31 L1552.5,973.39 L1553.5,973.47 L1554.5,973.55 L1555.5,973.63 L1556.5,973.71 L1557.5,973.79 L1558.5,973.87 L1559.5,973.94 L1560.5,974.02 L1561.5,974.10 L1562.5,974.17 L1563.5,974.25 L1564.5,974.32 L1565.5,974.39 L1566.5,974.47 L1567.5,974.54 L1568.5,974.61 L1569.5,974.68 L1570.5,974.75 L1571.5,974.82 L1572.5,974.89 L1573.5,974.96 L1574.5,975.03 L1575.5,975.10 L1576.5,975.17 L1577.5,975.24 L1578.5,975.30 L1579.5,975.37 L1580.5,975.44 L1581.5,975.50 L1582.5,975.57 L1583.5,975.63 L1584.5,975.70 L1585.5,975.76 L1586.5,975.83 L1587.5,975.89 L1588.5,975.95 L1589.5,976.01 L1590.5,976.08 L1591.5,976.14 L1592.5,976.20 L1593.5,976.26 L1594.5,976.32 L1595.5,976.38 L1596.5,976.44 L1597.5,976.50 L1598.5,976.56 L1599.5,976.62 L1600.5,976.67 L1601.5,976.73 L1602.5,976.79 L1603.5,976.84 L1604.5,976.90 L1605.5,976.96 L1606.5,977.01 L1607.5,977.07 L1608.5,977.12 L1609.5,977.18 L1610.5,977.23 L1611.5,977.29 L1612.5,977.34 L1613.5,977.39 L1614.5,977.45 L1615.5,977.50 L1616.5,977.55 L1617.5,977.60 L1618.5,977.65 L1619.5,977.71 L1620.5,977.76 L1621.5,977.81 L1622.5,977.86 L1623.5,977.91 L1624.5,977.96 L1625.5,978.01 L1626.5,978.05 L1627.5,978.10 L1628.5,978.15 L1629.5,978.20 L1630.5,978.25 L1631.5,978.30 L1632.5,978.34 L1633.5,978.39 L1634.5,978.44 L1635.5,978.48 L1636.5,978.53 L1637.5,978.57 L1638.5,978.62 L1639.5,978.66 L1640.5,978.71 L1641.5,978.75 L1642.5,978.80 L1643.5,978.84 L1644.5,978.89 L1645.5,978.93 L1646.5,978.97 L1647.5,979.02 L1648.5,979.06 L1649.5,979.10 L1650.5,979.14 L1651.5,979.19 L1652.5,979.23 L1653.5,979.27 L1654.5,979.31 L1655.5,979.35 L1656.5,979.39 L1657.5,979.43 L1658.5,979.47 L1659.5,979.51 L1660.5,979.55 L1661.5,979.59 L1662.5,979.63 L1663.5,979.67 L1664.5,979.71 L1665.5,979.75 L1666.5,979.79 L1667.5,979.83 L1668.5,979.86 L1669.5,979.90 L1670.5,979.94 L1671.5,979.98 L1672.5,980.01 L1673.5,980.05 L1674.5,980.09 L1675.5,980.12 L1676.5,980.16 L1677.5,980.20 L1678.5,980.23 L1679.5,980.27 L1680.5,980.30 L1681.5,980.34 L1682.5,980.37 L1683.5,980.41 L1684.5,980.44 L1685.5,980.48 L1686.5,980.51 L1687.5,980.55 L1688.5,980.58 L1689.5,980.61 L1690.5,980.65 L1691.5,980.68 L1692.5,980.71 L1693.5,980.75 L1694.5,980.78 L1695.5,980.81 L1696.5,980.84 L1697.5,980.88 L1698.5,980.91 L1699.5,980.94 L1700.5,980.97 L1701.5,981.00 L1702.5,981.03 L1703.5,981.07 L1704.5,981.10 L1705.5,981.13 L1706.5,981.16 L1707.5,981.19 L1708.5,981.22 L1709.5,981.25 L1710.5,981.28 L1711.5,981.31 L1712.5,981.34 L1713.5,981.37 L1714.5,981.40 L1715.5,981.43 L1716.5,981.46 L1717.5,981.48 L1718.5,981.51 L1719.5,981.54 L1720.5,981.57 L1721.5,981.60 L1722.5,981.63 L1723.5,981.65 L1724.5,981.68 L1725.5,981.71 L1726.5,981.74 L1727.5,981.76 L1728.5,981.79 L1729.5,981.82 L1730.5,981.85 L1731.5,981.87 L1732.5,981.90 L1733.5,981.93 L1734.5,981.95 L1735.5,981.98 L1736.5,982.00 L1737.5,982.03 L1738.5,982.06 L1739.5,982.08 L1740.5,982.11 L1741.5,982.13 L1742.5,982.16 L1743.5,982.18 L1744.5,982.21 L1745.5,982.23 L1746.5,982.26 L1747.5,982.28 L1748.5,982.31 L1749.5,982.33 L1750.5,982.36 L1751.5,982.38 L1752.5,982.40 L1753.5,982.43 L1754.5,982.45 L1755.5,982.48 L1756.5,982.50 L1757.5,982.52 L1758.5,982.55 L1759.5,982.57 L1760.5,982.59 L1761.5,982.62 L1762.5,982.64 L1763.5,982.66 L1764.5,982.68 L1765.5,982.71 L1766.5,982.73 L1767.5,982.75 L1768.5,982.77 L1769.5,982.79 L1770.5,982.82 L1771.5,982.84 L1772.5,982.86 L1773.5,982.88 L1774.5,982.90 L1775.5,982.92 L1776.5,982.95 L1777.5,982.97 L1778.5,982.99 L1779.5,983.01 L1780.5,983.03 L1781.5,983.05 L1782.5,983.07 L1783.5,983.09 L1784.5,983.11 L1785.5,983.13 L1786.5,983.15 L1787.5,983.17 L1788.5,983.19 L1789.5,983.21 L1790.5,983.23 L1791.5,983.25 L1792.5,983.27 L1793.5,983.29 L1794.5,983.31 L1795.5,983.33 L1796.5,983.35 L1797.5,983.37 L1798.5,983.39 L1799.5,983.41 L1800.5,983.43 L1801.5,983.45 L1802.5,983.47 L1803.5,983.48 L1804.5,983.50 L1805.5,983.52 L1806.5,983.54 L1807.5,983.56 L1808.5,983.58 L1809.5,983.59 L1810.5,983.61 L1811.5,983.63 L1812.5,983.65 L1813.5,983.67 L1814.5,983.68 L1815.5,983.70 L1816.5,983.72 L1817.5,983.74 L1818.5,983.75 L1819.5,983.77 L1820.5,983.79 L1821.5,983.81 L1822.5,983.82 L1823.5,983.84 L1824.5,983.86 L1825.5,983.87 L1826.5,983.89 L1827.5,983.91 L1828.5,983.92 L1829.5,983.94 L1830.5,983.96 L1831.5,983.97 L1832.5,983.99 L1833.5,984.01 L1834.5,984.02 L1835.5,984.04 L1836.5,984.05 L1837.5,984.07 L1838.5,984.09 L1839.5,984.10 L1840.5,984.12 L1841.5,984.13 L1842.5,984.15 L1843.5,984.16 L1844.5,984.18" stroke-width="2.0"/>
</g>
<g clip-path="url(#pa)" fill="#fff" stroke="#000" stroke-width="1.2">
<circle cx="391.9" cy="985.5" r="6.5"/>
<circle cx="420.9" cy="985.8" r="6.5"/>
<circle cx="449.9" cy="985" r="6.5"/>
<circle cx="478.8" cy="985.8" r="6.5"/>
<circle cx="507.8" cy="985" r="6.5"/>
<circle cx="536.8" cy="985.1" r="6.5"/>
<circle cx="565.8" cy="983.9" r="6.5"/>
<circle cx="594.8" cy="982.6" r="6.5"/>
<circle cx="623.7" cy="981.8" r="6.5"/>
<circle cx="652.7" cy="981.9" r="6.5"/>
<circle cx="681.7" cy="976.8" r="6.5"/>
<circle cx="710.7" cy="975.7" r="6.5"/>
<circle cx="739.7" cy="975" r="6.5"/>
<circle cx="768.6" cy="971.3" r="6.5"/>
<circle cx="797.6" cy="963.7" r="6.5"/>
<circle cx="826.6" cy="957.7" r="6.5"/>
<circle cx="855.6" cy="949.7" r="6.5"/>
<circle cx="884.6" cy="941.7" r="6.5"/>
<circle cx="913.5" cy="918.6" r="6.5"/>
<circle cx="942.5" cy="897.9" r="6.5"/>
<circle cx="971.5" cy="864" r="6.5"/>
<circle cx="1000.5" cy="793" r="6.5"/>
<circle cx="1029.5" cy="704" r="6.5"/>
<circle cx="1058.4" cy="527.6" r="6.5"/>
<circle cx="1087.4" cy="304.9" r="6.5"/>
<circle cx="1116.4" cy="143.8" r="6.5"/>
<circle cx="1145.4" cy="285" r="6.5"/>
<circle cx="1174.4" cy="505.6" r="6.5"/>
<circle cx="1203.3" cy="689.8" r="6.5"/>
<circle cx="1232.3" cy="785.5" r="6.5"/>
<circle cx="1261.3" cy="859" r="6.5"/>
<circle cx="1290.3" cy="895.9" r="6.5"/>
<circle cx="1319.3" cy="918.1" r="6.5"/>
<circle cx="1348.2" cy="939.9" r="6.5"/>
<circle cx="1377.2" cy="947.9" r="6.5"/>
<circle cx="1406.2" cy="956.7" r="6.5"/>
<circle cx="1435.2" cy="964.7" r="6.5"/>
<circle cx="1464.2" cy="972" r="6.5"/>
<circle cx="1493.1" cy="973.9" r="6.5"/>
<circle cx="1522.1" cy="974.6" r="6.5"/>
<circle cx="1551.1" cy="976.8" r="6.5"/>
<circle cx="1580.1" cy="981.9" r="6.5"/>
<circle cx="1609.1" cy="981" r="6.5"/>
<circle cx="1638.0" cy="982.6" r="6.5"/>
<circle cx="1667.0" cy="984.1" r="6.5"/>
<circle cx="1696.0" cy="984.9" r="6.5"/>
<circle cx="1725.0" cy="984.7" r="6.5"/>
<circle cx="1754.0" cy="986" r="6.5"/>
<circle cx="1782.9" cy="984.4" r="6.5"/>
<circle cx="1811.9" cy="985.6" r="6.5"/>
<circle cx="1840.9" cy="985.8" r="6.5"/>
</g>
<g fill="#000">
<rect x="392" y="29" width="1452" height="5"/>
<rect x="392" y="1093" width="1452" height="5"/>
<rect x="392" y="29" width="5" height="1069"/>
<rect x="1839" y="29" width="5" height="1069"/>
<rect x="384" y="29" width="9" height="5"/>
<rect x="384" y="1093" width="9" height="5"/>
<rect x="373" y="987" width="20" height="5"/>
<rect x="384" y="880" width="9" height="5"/>
<rect x="373" y="774" width="20" height="5"/>
<rect x="384" y="667" width="9" height="5"/>
<rect x="373" y="561" width="20" height="5"/>
<rect x="384" y="455" width="9" height="5"/>
<rect x="373" y="348" width="20" height="5"/>
<rect x="384" y="242" width="9" height="5"/>
<rect x="373" y="135" width="20" height="5"/>
<rect x="392" y="1097" width="5" height="10"/>
<rect x="537" y="1097" width="5" height="20"/>
<rect x="681" y="1097" width="5" height="10"/>
<rect x="826" y="1097" width="5" height="20"/>
<rect x="971" y="1097" width="5" height="10"/>
<rect x="1116" y="1097" width="5" height="20"/>
<rect x="1260" y="1097" width="5" height="10"/>
<rect x="1405" y="1097" width="5" height="20"/>
<rect x="1550" y="1097" width="5" height="10"/>
<rect x="1694" y="1097" width="5" height="20"/>
<rect x="1839" y="1097" width="5" height="10"/>
</g>
<g class="s" font-size="67">
<text transform="matrix(1.0 0 0 1.043 337.20 765.40)" font-size="40">3</text>
<text transform="matrix(1.0 0 0 1.043 191.00 802.50)" clip-path="url(#c1)">2x10</text>
<text transform="matrix(1.0 0 0 1.043 337.20 552.60)" font-size="40">3</text>
<text transform="matrix(1.0 0 0 1.043 191.00 589.70)" clip-path="url(#c2)">4x10</text>
<text transform="matrix(1.0 0 0 1.043 337.20 339.80)" font-size="40">3</text>
<text transform="matrix(1.0 0 0 1.043 191.00 376.90)" clip-path="url(#c3)">6x10</text>
<text transform="matrix(1.0 0 0 1.043 337.20 127.00)" font-size="40">3</text>
<text transform="matrix(1.0 0 0 1.043 191.00 164.10)" clip-path="url(#c4)">8x10</text>
<text transform="matrix(1.0 0 0 1.043 321.20 1002.00)">0</text>
<text transform="matrix(1.0 0 0 1.043 437.00 1196.90)" clip-path="url(#c6)">-4x10</text>
<text transform="matrix(1.0 0 0 1.043 604.80 1159.80)" font-size="40">-4</text>
<text transform="matrix(1.0 0 0 1.043 726.00 1196.90)" clip-path="url(#c8)">-2x10</text>
<text transform="matrix(1.0 0 0 1.043 894.20 1159.80)" font-size="40">-4</text>
<text transform="matrix(1.0 0 0 1.043 1316.00 1196.90)" clip-path="url(#c1)">2x10</text>
<text transform="matrix(1.0 0 0 1.043 1462.00 1159.80)" font-size="40">-4</text>
<text transform="matrix(1.0 0 0 1.043 1606.00 1196.90)" clip-path="url(#c2)">4x10</text>
<text transform="matrix(1.0 0 0 1.043 1751.90 1159.80)" font-size="40">-4</text>
<text transform="matrix(1.0 0 0 1.043 1099.40 1184.30)">0</text>
<text transform="translate(78.0,825.9) rotate(-90)">Normalized line shape</text>
<text transform="matrix(0.9125 0 0 0.859 994.56 1244.00)" class="n">&#916;</text>
<text transform="matrix(0.974 0 0 0.95 1032.98 1244.00)" class="r">&#969;</text>
<text x="1093.1" y="1244.0">(eV)</text>
<text transform="matrix(1.0 0 0 1.035 484.70 118.00)">Ly</text>
<text transform="matrix(0.8825 0 0 0.839 573.95 117.90)" class="d">&#945;</text>
<text transform="matrix(1.04 0 0 1.035 484.46 214.00)">N</text>
<text x="533.5" y="239.5" font-size="40">e</text>
<text transform="matrix(1.0 0 0 0.9 574.80 209.80)">=</text>
<text transform="matrix(1.0 0 0 1.043 633.00 214.00)" clip-path="url(#c14)">10</text>
<text transform="matrix(1.0 0 0 1.03 707.00 177.00)" font-size="40" clip-path="url(#c15)">15</text>
<text x="770.7" y="214.0">cm</text>
<text transform="matrix(1.0 0 0 1.03 859.70 177.00)" font-size="40">-3</text>
<text transform="matrix(1.05 0 0 1.035 484.60 319.00)">T</text>
<text x="526.8" y="345.0" font-size="40">e</text>
<text transform="matrix(1.0 0 0 0.9 567.70 314.80)">=</text>
<text transform="matrix(1.05 0 0 1.035 624.50 319.00)">T</text>
<text x="666.8" y="344.5" font-size="40">i</text>
<text transform="matrix(1.0 0 0 0.9 695.90 314.80)">=</text>
<text transform="matrix(1.0 0 0 1.043 754.00 319.00)" clip-path="url(#c20)">1</text>
<text x="809.0" y="319.0">e</text>
<text transform="matrix(1.0 0 0 1.035 847.90 319.00)">V</text>
<text x="1417.9" y="130.4">impact</text>
<text transform="matrix(1.0 0 0 1.035 1416.90 212.55)">UT</text>
<text x="1416.6" y="294.7">extended</text>
<text transform="matrix(1.0 0 0 1.035 1712.70 294.70)">UT</text>
<text x="1418.2" y="376.9">simulation</text>
</g>
<g fill="none" stroke="#000" stroke-width="2">
<path d="M1249,107 H1392" stroke-dasharray="3 7"/>
<path d="M1249,189 H1399" stroke-dasharray="10 3 3 4"/>
<path d="M1249,271 H1400"/>
<defs><clipPath id="c1"><path clip-rule="evenodd" d="M-60,-120H205.3V60H-60ZM74.2,-7.0H87.6V2H74.2ZM93.5,-7.0H106.4V2H93.5Z"/></clipPath><clipPath id="c2"><path clip-rule="evenodd" d="M-60,-120H205.3V60H-60ZM74.2,-7.0H87.6V2H74.2ZM93.5,-7.0H106.4V2H93.5Z"/></clipPath><clipPath id="c3"><path clip-rule="evenodd" d="M-60,-120H205.3V60H-60ZM74.2,-7.0H87.6V2H74.2ZM93.5,-7.0H106.4V2H93.5Z"/></clipPath><clipPath id="c4"><path clip-rule="evenodd" d="M-60,-120H205.3V60H-60ZM74.2,-7.0H87.6V2H74.2ZM93.5,-7.0H106.4V2H93.5Z"/></clipPath><clipPath id="c6"><path clip-rule="evenodd" d="M-60,-120H227.6V60H-60ZM96.5,-7.0H109.9V2H96.5ZM115.8,-7.0H128.7V2H115.8Z"/></clipPath><clipPath id="c8"><path clip-rule="evenodd" d="M-60,-120H227.6V60H-60ZM96.5,-7.0H109.9V2H96.5ZM115.8,-7.0H128.7V2H115.8Z"/></clipPath><clipPath id="c14"><path clip-rule="evenodd" d="M-60,-120H134.5V60H-60ZM3.4,-7.0H16.8V2H3.4ZM22.8,-7.0H35.6V2H22.8Z"/></clipPath><clipPath id="c15"><path clip-rule="evenodd" d="M-60,-120H104.5V60H-60ZM1.8,-4.6H10.1V2H1.8ZM13.6,-4.6H21.9V2H13.6Z"/></clipPath><clipPath id="c20"><path clip-rule="evenodd" d="M-60,-120H97.3V60H-60ZM3.4,-7.0H16.8V2H3.4ZM22.8,-7.0H35.6V2H22.8Z"/></clipPath></defs>
</g><circle cx="1324" cy="353" r="6.5" fill="#fff" stroke="#000" stroke-width="1.2"/>
</svg>
</body></html>
